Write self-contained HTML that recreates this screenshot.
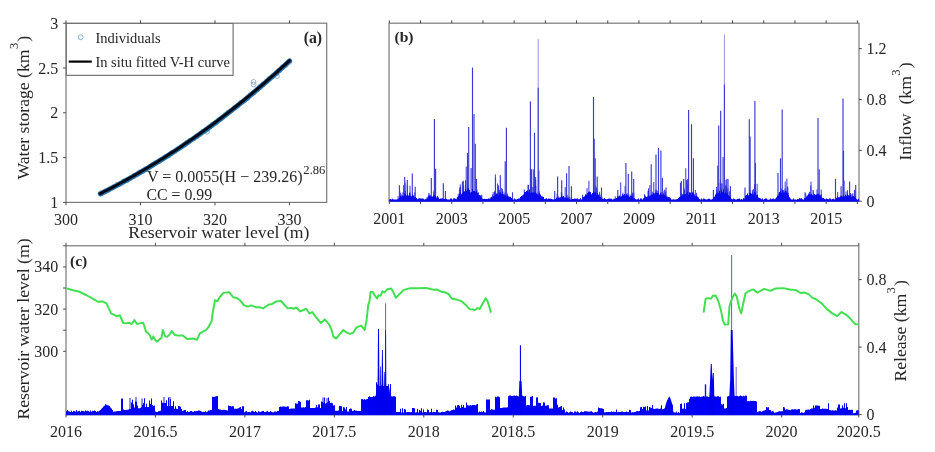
<!DOCTYPE html>
<html><head><meta charset="utf-8"><title>Reservoir figure</title>
<style>
html,body{margin:0;padding:0;background:#fff;}
svg{display:block;font-family:"Liberation Serif", "Times New Roman", serif;fill:#1a1a1a;}
svg text{fill:#262626;}
</style></head>
<body>
<svg width="935" height="452" viewBox="0 0 935 452">
<rect width="935" height="452" fill="#ffffff"/>
<circle cx="101.6" cy="193.0" r="2.4" fill="none" stroke="#7aa4c4" stroke-width="0.8"/>
<circle cx="105.1" cy="191.3" r="2.4" fill="none" stroke="#7aa4c4" stroke-width="0.8"/>
<circle cx="108.1" cy="190.0" r="2.4" fill="none" stroke="#7aa4c4" stroke-width="0.8"/>
<circle cx="110.8" cy="188.4" r="2.4" fill="none" stroke="#7aa4c4" stroke-width="0.8"/>
<circle cx="114.0" cy="186.7" r="2.4" fill="none" stroke="#7aa4c4" stroke-width="0.8"/>
<circle cx="117.2" cy="184.7" r="2.4" fill="none" stroke="#7aa4c4" stroke-width="0.8"/>
<circle cx="120.7" cy="183.7" r="2.4" fill="none" stroke="#7aa4c4" stroke-width="0.8"/>
<circle cx="123.6" cy="181.4" r="2.4" fill="none" stroke="#7aa4c4" stroke-width="0.8"/>
<circle cx="127.2" cy="180.3" r="2.4" fill="none" stroke="#7aa4c4" stroke-width="0.8"/>
<circle cx="130.3" cy="178.0" r="2.4" fill="none" stroke="#7aa4c4" stroke-width="0.8"/>
<circle cx="133.9" cy="175.9" r="2.4" fill="none" stroke="#7aa4c4" stroke-width="0.8"/>
<circle cx="137.0" cy="174.3" r="2.4" fill="none" stroke="#7aa4c4" stroke-width="0.8"/>
<circle cx="139.4" cy="172.4" r="2.4" fill="none" stroke="#7aa4c4" stroke-width="0.8"/>
<circle cx="142.8" cy="171.1" r="2.4" fill="none" stroke="#7aa4c4" stroke-width="0.8"/>
<circle cx="145.8" cy="169.1" r="2.4" fill="none" stroke="#7aa4c4" stroke-width="0.8"/>
<circle cx="149.4" cy="167.0" r="2.4" fill="none" stroke="#7aa4c4" stroke-width="0.8"/>
<circle cx="152.5" cy="164.8" r="2.4" fill="none" stroke="#7aa4c4" stroke-width="0.8"/>
<circle cx="155.2" cy="163.0" r="2.4" fill="none" stroke="#7aa4c4" stroke-width="0.8"/>
<circle cx="159.0" cy="161.2" r="2.4" fill="none" stroke="#7aa4c4" stroke-width="0.8"/>
<circle cx="161.8" cy="159.4" r="2.4" fill="none" stroke="#7aa4c4" stroke-width="0.8"/>
<circle cx="165.1" cy="157.1" r="2.4" fill="none" stroke="#7aa4c4" stroke-width="0.8"/>
<circle cx="168.6" cy="155.5" r="2.4" fill="none" stroke="#7aa4c4" stroke-width="0.8"/>
<circle cx="171.2" cy="153.3" r="2.4" fill="none" stroke="#7aa4c4" stroke-width="0.8"/>
<circle cx="174.7" cy="151.5" r="2.4" fill="none" stroke="#7aa4c4" stroke-width="0.8"/>
<circle cx="178.0" cy="148.9" r="2.4" fill="none" stroke="#7aa4c4" stroke-width="0.8"/>
<circle cx="181.5" cy="146.7" r="2.4" fill="none" stroke="#7aa4c4" stroke-width="0.8"/>
<circle cx="184.1" cy="145.1" r="2.4" fill="none" stroke="#7aa4c4" stroke-width="0.8"/>
<circle cx="187.0" cy="142.7" r="2.4" fill="none" stroke="#7aa4c4" stroke-width="0.8"/>
<circle cx="190.0" cy="140.7" r="2.4" fill="none" stroke="#7aa4c4" stroke-width="0.8"/>
<circle cx="193.9" cy="138.4" r="2.4" fill="none" stroke="#7aa4c4" stroke-width="0.8"/>
<circle cx="197.2" cy="136.0" r="2.4" fill="none" stroke="#7aa4c4" stroke-width="0.8"/>
<circle cx="200.2" cy="134.0" r="2.4" fill="none" stroke="#7aa4c4" stroke-width="0.8"/>
<circle cx="203.2" cy="131.6" r="2.4" fill="none" stroke="#7aa4c4" stroke-width="0.8"/>
<circle cx="206.7" cy="129.8" r="2.4" fill="none" stroke="#7aa4c4" stroke-width="0.8"/>
<circle cx="209.5" cy="127.2" r="2.4" fill="none" stroke="#7aa4c4" stroke-width="0.8"/>
<circle cx="212.2" cy="124.9" r="2.4" fill="none" stroke="#7aa4c4" stroke-width="0.8"/>
<circle cx="216.0" cy="122.8" r="2.4" fill="none" stroke="#7aa4c4" stroke-width="0.8"/>
<circle cx="219.3" cy="119.8" r="2.4" fill="none" stroke="#7aa4c4" stroke-width="0.8"/>
<circle cx="222.1" cy="117.8" r="2.4" fill="none" stroke="#7aa4c4" stroke-width="0.8"/>
<circle cx="224.9" cy="115.2" r="2.4" fill="none" stroke="#7aa4c4" stroke-width="0.8"/>
<circle cx="228.2" cy="112.4" r="2.4" fill="none" stroke="#7aa4c4" stroke-width="0.8"/>
<circle cx="231.2" cy="110.5" r="2.4" fill="none" stroke="#7aa4c4" stroke-width="0.8"/>
<circle cx="234.5" cy="107.6" r="2.4" fill="none" stroke="#7aa4c4" stroke-width="0.8"/>
<circle cx="237.9" cy="105.6" r="2.4" fill="none" stroke="#7aa4c4" stroke-width="0.8"/>
<circle cx="240.8" cy="102.7" r="2.4" fill="none" stroke="#7aa4c4" stroke-width="0.8"/>
<circle cx="244.4" cy="100.5" r="2.4" fill="none" stroke="#7aa4c4" stroke-width="0.8"/>
<circle cx="247.8" cy="97.9" r="2.4" fill="none" stroke="#7aa4c4" stroke-width="0.8"/>
<circle cx="250.5" cy="94.9" r="2.4" fill="none" stroke="#7aa4c4" stroke-width="0.8"/>
<circle cx="253.7" cy="92.7" r="2.4" fill="none" stroke="#7aa4c4" stroke-width="0.8"/>
<circle cx="257.5" cy="89.4" r="2.4" fill="none" stroke="#7aa4c4" stroke-width="0.8"/>
<circle cx="259.9" cy="86.7" r="2.4" fill="none" stroke="#7aa4c4" stroke-width="0.8"/>
<circle cx="263.1" cy="84.3" r="2.4" fill="none" stroke="#7aa4c4" stroke-width="0.8"/>
<circle cx="266.6" cy="81.3" r="2.4" fill="none" stroke="#7aa4c4" stroke-width="0.8"/>
<circle cx="269.2" cy="78.7" r="2.4" fill="none" stroke="#7aa4c4" stroke-width="0.8"/>
<circle cx="272.7" cy="76.1" r="2.4" fill="none" stroke="#7aa4c4" stroke-width="0.8"/>
<circle cx="276.5" cy="73.4" r="2.4" fill="none" stroke="#7aa4c4" stroke-width="0.8"/>
<circle cx="279.2" cy="70.5" r="2.4" fill="none" stroke="#7aa4c4" stroke-width="0.8"/>
<circle cx="282.6" cy="67.1" r="2.4" fill="none" stroke="#7aa4c4" stroke-width="0.8"/>
<circle cx="285.9" cy="64.9" r="2.4" fill="none" stroke="#7aa4c4" stroke-width="0.8"/>
<circle cx="289.1" cy="62.0" r="2.4" fill="none" stroke="#7aa4c4" stroke-width="0.8"/>
<circle cx="253.5" cy="81.9" r="2.4" fill="none" stroke="#7aa4c4" stroke-width="0.8"/>
<circle cx="253.6" cy="84.6" r="2.4" fill="none" stroke="#7aa4c4" stroke-width="0.8"/>
<circle cx="277.0" cy="76.1" r="2.4" fill="none" stroke="#7aa4c4" stroke-width="0.8"/>
<circle cx="207.1" cy="131.8" r="2.4" fill="none" stroke="#7aa4c4" stroke-width="0.8"/>
<circle cx="100.6" cy="193.4" r="2.4" fill="none" stroke="#7aa4c4" stroke-width="0.8"/>
<path d="M100.26,193.62 L102.16,192.67 L104.05,191.71 L105.94,190.74 L107.83,189.77 L109.72,188.79 L111.62,187.80 L113.51,186.80 L115.40,185.80 L117.29,184.79 L119.18,183.78 L121.07,182.75 L122.97,181.72 L124.86,180.69 L126.75,179.64 L128.64,178.59 L130.53,177.53 L132.43,176.47 L134.32,175.39 L136.21,174.31 L138.10,173.23 L139.99,172.13 L141.89,171.03 L143.78,169.92 L145.67,168.80 L147.56,167.68 L149.45,166.54 L151.35,165.40 L153.24,164.26 L155.13,163.10 L157.02,161.94 L158.91,160.77 L160.81,159.59 L162.70,158.41 L164.59,157.22 L166.48,156.02 L168.37,154.81 L170.27,153.59 L172.16,152.37 L174.05,151.14 L175.94,149.90 L177.83,148.66 L179.72,147.40 L181.62,146.14 L183.51,144.87 L185.40,143.59 L187.29,142.31 L189.18,141.01 L191.08,139.71 L192.97,138.40 L194.86,137.09 L196.75,135.76 L198.64,134.43 L200.54,133.09 L202.43,131.74 L204.32,130.38 L206.21,129.01 L208.10,127.64 L210.00,126.26 L211.89,124.87 L213.78,123.47 L215.67,122.06 L217.56,120.65 L219.46,119.23 L221.35,117.80 L223.24,116.36 L225.13,114.91 L227.02,113.45 L228.92,111.99 L230.81,110.51 L232.70,109.03 L234.59,107.54 L236.48,106.04 L238.37,104.54 L240.27,103.02 L242.16,101.50 L244.05,99.97 L245.94,98.42 L247.83,96.88 L249.73,95.32 L251.62,93.75 L253.51,92.17 L255.40,90.59 L257.29,89.00 L259.19,87.40 L261.08,85.79 L262.97,84.17 L264.86,82.54 L266.75,80.90 L268.65,79.26 L270.54,77.60 L272.43,75.94 L274.32,74.27 L276.21,72.58 L278.11,70.89 L280.00,69.19 L281.89,67.49 L283.78,65.77 L285.67,64.04 L287.57,62.31 L289.46,60.56" fill="none" stroke="#2070ae" stroke-width="5.0" stroke-linecap="round" transform="translate(0.15,0.35)"/>
<path d="M100.26,193.62 L102.16,192.67 L104.05,191.71 L105.94,190.74 L107.83,189.77 L109.72,188.79 L111.62,187.80 L113.51,186.80 L115.40,185.80 L117.29,184.79 L119.18,183.78 L121.07,182.75 L122.97,181.72 L124.86,180.69 L126.75,179.64 L128.64,178.59 L130.53,177.53 L132.43,176.47 L134.32,175.39 L136.21,174.31 L138.10,173.23 L139.99,172.13 L141.89,171.03 L143.78,169.92 L145.67,168.80 L147.56,167.68 L149.45,166.54 L151.35,165.40 L153.24,164.26 L155.13,163.10 L157.02,161.94 L158.91,160.77 L160.81,159.59 L162.70,158.41 L164.59,157.22 L166.48,156.02 L168.37,154.81 L170.27,153.59 L172.16,152.37 L174.05,151.14 L175.94,149.90 L177.83,148.66 L179.72,147.40 L181.62,146.14 L183.51,144.87 L185.40,143.59 L187.29,142.31 L189.18,141.01 L191.08,139.71 L192.97,138.40 L194.86,137.09 L196.75,135.76 L198.64,134.43 L200.54,133.09 L202.43,131.74 L204.32,130.38 L206.21,129.01 L208.10,127.64 L210.00,126.26 L211.89,124.87 L213.78,123.47 L215.67,122.06 L217.56,120.65 L219.46,119.23 L221.35,117.80 L223.24,116.36 L225.13,114.91 L227.02,113.45 L228.92,111.99 L230.81,110.51 L232.70,109.03 L234.59,107.54 L236.48,106.04 L238.37,104.54 L240.27,103.02 L242.16,101.50 L244.05,99.97 L245.94,98.42 L247.83,96.88 L249.73,95.32 L251.62,93.75 L253.51,92.17 L255.40,90.59 L257.29,89.00 L259.19,87.40 L261.08,85.79 L262.97,84.17 L264.86,82.54 L266.75,80.90 L268.65,79.26 L270.54,77.60 L272.43,75.94 L274.32,74.27 L276.21,72.58 L278.11,70.89 L280.00,69.19 L281.89,67.49 L283.78,65.77 L285.67,64.04 L287.57,62.31 L289.46,60.56" fill="none" stroke="#050a14" stroke-width="3.0" stroke-linecap="round"/>
<rect x="66.3" y="23.5" width="166.8" height="51.8" fill="#ffffff" stroke="#585858" stroke-width="1"/>
<circle cx="80.7" cy="37.3" r="2.4" fill="none" stroke="#6fb0d8" stroke-width="0.9"/>
<line x1="68.70" y1="61.60" x2="91.80" y2="61.60" stroke="#000" stroke-width="2.2" />
<text x="95.40" y="42.60" font-size="14.5" text-anchor="start" font-weight="normal" >Individuals</text>
<text x="95.40" y="67.30" font-size="14.5" text-anchor="start" font-weight="normal" >In situ fitted V-H curve</text>
<rect x="66.00" y="23.20" width="260.70" height="179.20" fill="none" stroke="#7a7a7a" stroke-width="1.2"/>
<line x1="66.00" y1="202.40" x2="66.00" y2="205.30" stroke="#4a4a4a" stroke-width="1.0" />
<line x1="66.00" y1="23.20" x2="66.00" y2="20.30" stroke="#4a4a4a" stroke-width="1.0" />
<text x="66.00" y="224.80" font-size="16.0" text-anchor="middle" font-weight="normal" >300</text>
<line x1="140.49" y1="202.40" x2="140.49" y2="205.30" stroke="#4a4a4a" stroke-width="1.0" />
<line x1="140.49" y1="23.20" x2="140.49" y2="20.30" stroke="#4a4a4a" stroke-width="1.0" />
<text x="140.49" y="224.80" font-size="16.0" text-anchor="middle" font-weight="normal" >310</text>
<line x1="214.97" y1="202.40" x2="214.97" y2="205.30" stroke="#4a4a4a" stroke-width="1.0" />
<line x1="214.97" y1="23.20" x2="214.97" y2="20.30" stroke="#4a4a4a" stroke-width="1.0" />
<text x="214.97" y="224.80" font-size="16.0" text-anchor="middle" font-weight="normal" >320</text>
<line x1="289.46" y1="202.40" x2="289.46" y2="205.30" stroke="#4a4a4a" stroke-width="1.0" />
<line x1="289.46" y1="23.20" x2="289.46" y2="20.30" stroke="#4a4a4a" stroke-width="1.0" />
<text x="289.46" y="224.80" font-size="16.0" text-anchor="middle" font-weight="normal" >330</text>
<line x1="66.00" y1="202.40" x2="63.10" y2="202.40" stroke="#4a4a4a" stroke-width="1.0" />
<text x="58.30" y="207.90" font-size="16.0" text-anchor="end" font-weight="normal" >1</text>
<line x1="66.00" y1="157.60" x2="63.10" y2="157.60" stroke="#4a4a4a" stroke-width="1.0" />
<text x="58.30" y="163.10" font-size="16.0" text-anchor="end" font-weight="normal" >1.5</text>
<line x1="66.00" y1="112.80" x2="63.10" y2="112.80" stroke="#4a4a4a" stroke-width="1.0" />
<text x="58.30" y="118.30" font-size="16.0" text-anchor="end" font-weight="normal" >2</text>
<line x1="66.00" y1="68.00" x2="63.10" y2="68.00" stroke="#4a4a4a" stroke-width="1.0" />
<text x="58.30" y="73.50" font-size="16.0" text-anchor="end" font-weight="normal" >2.5</text>
<line x1="66.00" y1="23.20" x2="63.10" y2="23.20" stroke="#4a4a4a" stroke-width="1.0" />
<text x="58.30" y="28.70" font-size="16.0" text-anchor="end" font-weight="normal" >3</text>
<text x="312.90" y="42.70" font-size="15.8" text-anchor="middle" font-weight="bold" >(a)</text>
<text x="147.00" y="182.00" font-size="16.0" text-anchor="start" font-weight="normal" >V = 0.0055(H − 239.26)<tspan font-size="12.6" dy="-8.5" dx="0.8">2.86</tspan></text>
<text x="146.50" y="199.80" font-size="15.8" text-anchor="start" font-weight="normal" >CC = 0.99</text>
<text x="218.80" y="237.90" font-size="17.7" text-anchor="middle" font-weight="normal" >Reservoir water level (m)</text>
<text transform="translate(28.8,179.6) rotate(-90)" font-size="17.7">Water storage (km<tspan font-size="12.5" dy="-11" dx="0.3">3</tspan><tspan dy="11" dx="1.2">)</tspan></text>
<rect x="389.05" y="23.20" width="469.95" height="178.00" fill="none" stroke="#7a7a7a" stroke-width="1.2"/>
<line x1="416.1" y1="200.2" x2="416.1" y2="198.5" stroke="#2424e4" stroke-width="0.9"/>
<line x1="410.1" y1="200.2" x2="410.1" y2="192.3" stroke="#2424e4" stroke-width="0.9"/>
<line x1="407.6" y1="200.2" x2="407.6" y2="193.4" stroke="#2424e4" stroke-width="0.9"/>
<line x1="402.9" y1="200.2" x2="402.9" y2="192.3" stroke="#2424e4" stroke-width="0.9"/>
<line x1="416.4" y1="200.2" x2="416.4" y2="198.9" stroke="#2424e4" stroke-width="0.9"/>
<line x1="407.3" y1="200.2" x2="407.3" y2="185.5" stroke="#2424e4" stroke-width="0.9"/>
<line x1="417.3" y1="200.2" x2="417.3" y2="199.9" stroke="#2424e4" stroke-width="0.9"/>
<line x1="399.7" y1="200.2" x2="399.7" y2="190.7" stroke="#2424e4" stroke-width="0.9"/>
<line x1="417.5" y1="200.2" x2="417.5" y2="199.9" stroke="#2424e4" stroke-width="0.9"/>
<line x1="398.1" y1="200.2" x2="398.1" y2="196.2" stroke="#2424e4" stroke-width="0.9"/>
<line x1="405.1" y1="200.2" x2="405.1" y2="182.6" stroke="#2424e4" stroke-width="0.9"/>
<line x1="410.0" y1="200.2" x2="410.0" y2="185.8" stroke="#2424e4" stroke-width="0.9"/>
<line x1="400.4" y1="200.2" x2="400.4" y2="192.7" stroke="#2424e4" stroke-width="0.9"/>
<line x1="401.7" y1="200.2" x2="401.7" y2="194.4" stroke="#2424e4" stroke-width="0.9"/>
<line x1="414.8" y1="200.2" x2="414.8" y2="192.3" stroke="#2424e4" stroke-width="0.9"/>
<line x1="400.8" y1="200.2" x2="400.8" y2="196.1" stroke="#2424e4" stroke-width="0.9"/>
<line x1="405.4" y1="200.2" x2="405.4" y2="190.8" stroke="#2424e4" stroke-width="0.9"/>
<line x1="405.1" y1="200.2" x2="405.1" y2="194.0" stroke="#2424e4" stroke-width="0.9"/>
<line x1="429.0" y1="200.2" x2="429.0" y2="193.5" stroke="#2424e4" stroke-width="0.9"/>
<line x1="439.4" y1="200.2" x2="439.4" y2="199.1" stroke="#2424e4" stroke-width="0.9"/>
<line x1="434.0" y1="200.2" x2="434.0" y2="190.6" stroke="#2424e4" stroke-width="0.9"/>
<line x1="425.6" y1="200.2" x2="425.6" y2="198.9" stroke="#2424e4" stroke-width="0.9"/>
<line x1="426.9" y1="200.2" x2="426.9" y2="197.3" stroke="#2424e4" stroke-width="0.9"/>
<line x1="433.8" y1="200.2" x2="433.8" y2="192.2" stroke="#2424e4" stroke-width="0.9"/>
<line x1="429.9" y1="200.2" x2="429.9" y2="195.0" stroke="#2424e4" stroke-width="0.9"/>
<line x1="434.3" y1="200.2" x2="434.3" y2="194.1" stroke="#2424e4" stroke-width="0.9"/>
<line x1="435.5" y1="200.2" x2="435.5" y2="194.4" stroke="#2424e4" stroke-width="0.9"/>
<line x1="432.0" y1="200.2" x2="432.0" y2="196.1" stroke="#2424e4" stroke-width="0.9"/>
<line x1="434.9" y1="200.2" x2="434.9" y2="193.8" stroke="#2424e4" stroke-width="0.9"/>
<line x1="428.8" y1="200.2" x2="428.8" y2="193.3" stroke="#2424e4" stroke-width="0.9"/>
<line x1="437.5" y1="200.2" x2="437.5" y2="195.9" stroke="#2424e4" stroke-width="0.9"/>
<line x1="427.9" y1="200.2" x2="427.9" y2="196.5" stroke="#2424e4" stroke-width="0.9"/>
<line x1="458.9" y1="200.2" x2="458.9" y2="196.2" stroke="#2424e4" stroke-width="0.9"/>
<line x1="467.6" y1="200.2" x2="467.6" y2="189.6" stroke="#2424e4" stroke-width="0.9"/>
<line x1="467.9" y1="200.2" x2="467.9" y2="184.4" stroke="#2424e4" stroke-width="0.9"/>
<line x1="457.1" y1="200.2" x2="457.1" y2="197.4" stroke="#2424e4" stroke-width="0.9"/>
<line x1="458.2" y1="200.2" x2="458.2" y2="193.7" stroke="#2424e4" stroke-width="0.9"/>
<line x1="477.0" y1="200.2" x2="477.0" y2="189.2" stroke="#2424e4" stroke-width="0.9"/>
<line x1="457.5" y1="200.2" x2="457.5" y2="197.1" stroke="#2424e4" stroke-width="0.9"/>
<line x1="466.2" y1="200.2" x2="466.2" y2="166.6" stroke="#2424e4" stroke-width="0.9"/>
<line x1="459.7" y1="200.2" x2="459.7" y2="187.5" stroke="#2424e4" stroke-width="0.9"/>
<line x1="482.9" y1="200.2" x2="482.9" y2="200.5" stroke="#2424e4" stroke-width="0.9"/>
<line x1="478.0" y1="200.2" x2="478.0" y2="193.3" stroke="#2424e4" stroke-width="0.9"/>
<line x1="482.5" y1="200.2" x2="482.5" y2="199.5" stroke="#2424e4" stroke-width="0.9"/>
<line x1="481.8" y1="200.2" x2="481.8" y2="194.7" stroke="#2424e4" stroke-width="0.9"/>
<line x1="460.5" y1="200.2" x2="460.5" y2="187.4" stroke="#2424e4" stroke-width="0.9"/>
<line x1="481.1" y1="200.2" x2="481.1" y2="197.8" stroke="#2424e4" stroke-width="0.9"/>
<line x1="465.5" y1="200.2" x2="465.5" y2="180.2" stroke="#2424e4" stroke-width="0.9"/>
<line x1="460.3" y1="200.2" x2="460.3" y2="184.4" stroke="#2424e4" stroke-width="0.9"/>
<line x1="463.4" y1="200.2" x2="463.4" y2="180.8" stroke="#2424e4" stroke-width="0.9"/>
<line x1="459.9" y1="200.2" x2="459.9" y2="192.5" stroke="#2424e4" stroke-width="0.9"/>
<line x1="480.8" y1="200.2" x2="480.8" y2="196.9" stroke="#2424e4" stroke-width="0.9"/>
<line x1="463.1" y1="200.2" x2="463.1" y2="187.9" stroke="#2424e4" stroke-width="0.9"/>
<line x1="464.6" y1="200.2" x2="464.6" y2="191.3" stroke="#2424e4" stroke-width="0.9"/>
<line x1="460.9" y1="200.2" x2="460.9" y2="193.6" stroke="#2424e4" stroke-width="0.9"/>
<line x1="481.3" y1="200.2" x2="481.3" y2="195.5" stroke="#2424e4" stroke-width="0.9"/>
<line x1="510.5" y1="200.2" x2="510.5" y2="197.8" stroke="#2424e4" stroke-width="0.9"/>
<line x1="507.8" y1="200.2" x2="507.8" y2="195.6" stroke="#2424e4" stroke-width="0.9"/>
<line x1="501.7" y1="200.2" x2="501.7" y2="188.1" stroke="#2424e4" stroke-width="0.9"/>
<line x1="497.6" y1="200.2" x2="497.6" y2="183.5" stroke="#2424e4" stroke-width="0.9"/>
<line x1="502.3" y1="200.2" x2="502.3" y2="189.0" stroke="#2424e4" stroke-width="0.9"/>
<line x1="510.2" y1="200.2" x2="510.2" y2="197.7" stroke="#2424e4" stroke-width="0.9"/>
<line x1="512.8" y1="200.2" x2="512.8" y2="200.6" stroke="#2424e4" stroke-width="0.9"/>
<line x1="498.5" y1="200.2" x2="498.5" y2="185.4" stroke="#2424e4" stroke-width="0.9"/>
<line x1="495.4" y1="200.2" x2="495.4" y2="174.4" stroke="#2424e4" stroke-width="0.9"/>
<line x1="502.9" y1="200.2" x2="502.9" y2="191.5" stroke="#2424e4" stroke-width="0.9"/>
<line x1="507.4" y1="200.2" x2="507.4" y2="193.4" stroke="#2424e4" stroke-width="0.9"/>
<line x1="493.2" y1="200.2" x2="493.2" y2="192.1" stroke="#2424e4" stroke-width="0.9"/>
<line x1="490.2" y1="200.2" x2="490.2" y2="197.4" stroke="#2424e4" stroke-width="0.9"/>
<line x1="495.1" y1="200.2" x2="495.1" y2="191.1" stroke="#2424e4" stroke-width="0.9"/>
<line x1="512.6" y1="200.2" x2="512.6" y2="200.1" stroke="#2424e4" stroke-width="0.9"/>
<line x1="504.9" y1="200.2" x2="504.9" y2="192.7" stroke="#2424e4" stroke-width="0.9"/>
<line x1="489.0" y1="200.2" x2="489.0" y2="201.1" stroke="#2424e4" stroke-width="0.9"/>
<line x1="492.6" y1="200.2" x2="492.6" y2="194.4" stroke="#2424e4" stroke-width="0.9"/>
<line x1="499.4" y1="200.2" x2="499.4" y2="189.9" stroke="#2424e4" stroke-width="0.9"/>
<line x1="510.5" y1="200.2" x2="510.5" y2="197.9" stroke="#2424e4" stroke-width="0.9"/>
<line x1="494.5" y1="200.2" x2="494.5" y2="191.6" stroke="#2424e4" stroke-width="0.9"/>
<line x1="519.6" y1="200.2" x2="519.6" y2="200.0" stroke="#2424e4" stroke-width="0.9"/>
<line x1="528.2" y1="200.2" x2="528.2" y2="191.1" stroke="#2424e4" stroke-width="0.9"/>
<line x1="528.3" y1="200.2" x2="528.3" y2="190.1" stroke="#2424e4" stroke-width="0.9"/>
<line x1="534.2" y1="200.2" x2="534.2" y2="184.6" stroke="#2424e4" stroke-width="0.9"/>
<line x1="524.3" y1="200.2" x2="524.3" y2="189.4" stroke="#2424e4" stroke-width="0.9"/>
<line x1="531.3" y1="200.2" x2="531.3" y2="190.0" stroke="#2424e4" stroke-width="0.9"/>
<line x1="543.4" y1="200.2" x2="543.4" y2="197.8" stroke="#2424e4" stroke-width="0.9"/>
<line x1="522.9" y1="200.2" x2="522.9" y2="195.4" stroke="#2424e4" stroke-width="0.9"/>
<line x1="535.6" y1="200.2" x2="535.6" y2="177.0" stroke="#2424e4" stroke-width="0.9"/>
<line x1="539.3" y1="200.2" x2="539.3" y2="191.4" stroke="#2424e4" stroke-width="0.9"/>
<line x1="525.9" y1="200.2" x2="525.9" y2="193.2" stroke="#2424e4" stroke-width="0.9"/>
<line x1="535.8" y1="200.2" x2="535.8" y2="186.0" stroke="#2424e4" stroke-width="0.9"/>
<line x1="528.1" y1="200.2" x2="528.1" y2="184.6" stroke="#2424e4" stroke-width="0.9"/>
<line x1="530.5" y1="200.2" x2="530.5" y2="169.8" stroke="#2424e4" stroke-width="0.9"/>
<line x1="538.1" y1="200.2" x2="538.1" y2="191.5" stroke="#2424e4" stroke-width="0.9"/>
<line x1="542.5" y1="200.2" x2="542.5" y2="197.2" stroke="#2424e4" stroke-width="0.9"/>
<line x1="532.8" y1="200.2" x2="532.8" y2="187.1" stroke="#2424e4" stroke-width="0.9"/>
<line x1="525.2" y1="200.2" x2="525.2" y2="193.5" stroke="#2424e4" stroke-width="0.9"/>
<line x1="539.3" y1="200.2" x2="539.3" y2="194.1" stroke="#2424e4" stroke-width="0.9"/>
<line x1="533.3" y1="200.2" x2="533.3" y2="169.3" stroke="#2424e4" stroke-width="0.9"/>
<line x1="522.7" y1="200.2" x2="522.7" y2="195.2" stroke="#2424e4" stroke-width="0.9"/>
<line x1="534.8" y1="200.2" x2="534.8" y2="186.3" stroke="#2424e4" stroke-width="0.9"/>
<line x1="535.7" y1="200.2" x2="535.7" y2="179.8" stroke="#2424e4" stroke-width="0.9"/>
<line x1="556.3" y1="200.2" x2="556.3" y2="198.0" stroke="#2424e4" stroke-width="0.9"/>
<line x1="558.7" y1="200.2" x2="558.7" y2="197.5" stroke="#2424e4" stroke-width="0.9"/>
<line x1="569.9" y1="200.2" x2="569.9" y2="197.3" stroke="#2424e4" stroke-width="0.9"/>
<line x1="566.6" y1="200.2" x2="566.6" y2="197.7" stroke="#2424e4" stroke-width="0.9"/>
<line x1="569.0" y1="200.2" x2="569.0" y2="196.4" stroke="#2424e4" stroke-width="0.9"/>
<line x1="561.8" y1="200.2" x2="561.8" y2="192.6" stroke="#2424e4" stroke-width="0.9"/>
<line x1="561.6" y1="200.2" x2="561.6" y2="196.2" stroke="#2424e4" stroke-width="0.9"/>
<line x1="555.0" y1="200.2" x2="555.0" y2="199.1" stroke="#2424e4" stroke-width="0.9"/>
<line x1="553.7" y1="200.2" x2="553.7" y2="200.2" stroke="#2424e4" stroke-width="0.9"/>
<line x1="567.2" y1="200.2" x2="567.2" y2="195.0" stroke="#2424e4" stroke-width="0.9"/>
<line x1="569.1" y1="200.2" x2="569.1" y2="196.7" stroke="#2424e4" stroke-width="0.9"/>
<line x1="558.1" y1="200.2" x2="558.1" y2="195.8" stroke="#2424e4" stroke-width="0.9"/>
<line x1="561.3" y1="200.2" x2="561.3" y2="192.0" stroke="#2424e4" stroke-width="0.9"/>
<line x1="562.9" y1="200.2" x2="562.9" y2="196.0" stroke="#2424e4" stroke-width="0.9"/>
<line x1="565.2" y1="200.2" x2="565.2" y2="187.1" stroke="#2424e4" stroke-width="0.9"/>
<line x1="557.1" y1="200.2" x2="557.1" y2="193.5" stroke="#2424e4" stroke-width="0.9"/>
<line x1="553.3" y1="200.2" x2="553.3" y2="200.7" stroke="#2424e4" stroke-width="0.9"/>
<line x1="587.0" y1="200.2" x2="587.0" y2="188.1" stroke="#2424e4" stroke-width="0.9"/>
<line x1="601.8" y1="200.2" x2="601.8" y2="196.8" stroke="#2424e4" stroke-width="0.9"/>
<line x1="588.9" y1="200.2" x2="588.9" y2="180.8" stroke="#2424e4" stroke-width="0.9"/>
<line x1="588.9" y1="200.2" x2="588.9" y2="191.8" stroke="#2424e4" stroke-width="0.9"/>
<line x1="601.1" y1="200.2" x2="601.1" y2="195.5" stroke="#2424e4" stroke-width="0.9"/>
<line x1="596.5" y1="200.2" x2="596.5" y2="187.4" stroke="#2424e4" stroke-width="0.9"/>
<line x1="602.6" y1="200.2" x2="602.6" y2="199.7" stroke="#2424e4" stroke-width="0.9"/>
<line x1="599.6" y1="200.2" x2="599.6" y2="191.8" stroke="#2424e4" stroke-width="0.9"/>
<line x1="600.0" y1="200.2" x2="600.0" y2="194.7" stroke="#2424e4" stroke-width="0.9"/>
<line x1="597.2" y1="200.2" x2="597.2" y2="189.6" stroke="#2424e4" stroke-width="0.9"/>
<line x1="588.5" y1="200.2" x2="588.5" y2="192.3" stroke="#2424e4" stroke-width="0.9"/>
<line x1="595.1" y1="200.2" x2="595.1" y2="192.5" stroke="#2424e4" stroke-width="0.9"/>
<line x1="601.1" y1="200.2" x2="601.1" y2="197.7" stroke="#2424e4" stroke-width="0.9"/>
<line x1="582.6" y1="200.2" x2="582.6" y2="199.9" stroke="#2424e4" stroke-width="0.9"/>
<line x1="601.5" y1="200.2" x2="601.5" y2="197.7" stroke="#2424e4" stroke-width="0.9"/>
<line x1="585.0" y1="200.2" x2="585.0" y2="196.6" stroke="#2424e4" stroke-width="0.9"/>
<line x1="582.9" y1="200.2" x2="582.9" y2="197.9" stroke="#2424e4" stroke-width="0.9"/>
<line x1="595.3" y1="200.2" x2="595.3" y2="185.5" stroke="#2424e4" stroke-width="0.9"/>
<line x1="630.7" y1="200.2" x2="630.7" y2="196.2" stroke="#2424e4" stroke-width="0.9"/>
<line x1="627.2" y1="200.2" x2="627.2" y2="193.3" stroke="#2424e4" stroke-width="0.9"/>
<line x1="632.6" y1="200.2" x2="632.6" y2="192.6" stroke="#2424e4" stroke-width="0.9"/>
<line x1="634.4" y1="200.2" x2="634.4" y2="198.6" stroke="#2424e4" stroke-width="0.9"/>
<line x1="633.8" y1="200.2" x2="633.8" y2="192.7" stroke="#2424e4" stroke-width="0.9"/>
<line x1="635.7" y1="200.2" x2="635.7" y2="199.6" stroke="#2424e4" stroke-width="0.9"/>
<line x1="617.9" y1="200.2" x2="617.9" y2="196.8" stroke="#2424e4" stroke-width="0.9"/>
<line x1="613.8" y1="200.2" x2="613.8" y2="198.7" stroke="#2424e4" stroke-width="0.9"/>
<line x1="632.5" y1="200.2" x2="632.5" y2="194.5" stroke="#2424e4" stroke-width="0.9"/>
<line x1="632.8" y1="200.2" x2="632.8" y2="194.8" stroke="#2424e4" stroke-width="0.9"/>
<line x1="619.9" y1="200.2" x2="619.9" y2="195.8" stroke="#2424e4" stroke-width="0.9"/>
<line x1="615.3" y1="200.2" x2="615.3" y2="196.3" stroke="#2424e4" stroke-width="0.9"/>
<line x1="617.9" y1="200.2" x2="617.9" y2="196.0" stroke="#2424e4" stroke-width="0.9"/>
<line x1="623.2" y1="200.2" x2="623.2" y2="195.2" stroke="#2424e4" stroke-width="0.9"/>
<line x1="619.2" y1="200.2" x2="619.2" y2="195.4" stroke="#2424e4" stroke-width="0.9"/>
<line x1="630.2" y1="200.2" x2="630.2" y2="194.5" stroke="#2424e4" stroke-width="0.9"/>
<line x1="620.7" y1="200.2" x2="620.7" y2="182.3" stroke="#2424e4" stroke-width="0.9"/>
<line x1="625.1" y1="200.2" x2="625.1" y2="186.2" stroke="#2424e4" stroke-width="0.9"/>
<line x1="627.8" y1="200.2" x2="627.8" y2="195.4" stroke="#2424e4" stroke-width="0.9"/>
<line x1="622.9" y1="200.2" x2="622.9" y2="192.7" stroke="#2424e4" stroke-width="0.9"/>
<line x1="631.6" y1="200.2" x2="631.6" y2="195.5" stroke="#2424e4" stroke-width="0.9"/>
<line x1="663.1" y1="200.2" x2="663.1" y2="191.3" stroke="#2424e4" stroke-width="0.9"/>
<line x1="648.5" y1="200.2" x2="648.5" y2="188.3" stroke="#2424e4" stroke-width="0.9"/>
<line x1="644.7" y1="200.2" x2="644.7" y2="195.0" stroke="#2424e4" stroke-width="0.9"/>
<line x1="647.1" y1="200.2" x2="647.1" y2="196.9" stroke="#2424e4" stroke-width="0.9"/>
<line x1="648.1" y1="200.2" x2="648.1" y2="190.9" stroke="#2424e4" stroke-width="0.9"/>
<line x1="671.3" y1="200.2" x2="671.3" y2="200.3" stroke="#2424e4" stroke-width="0.9"/>
<line x1="656.7" y1="200.2" x2="656.7" y2="189.9" stroke="#2424e4" stroke-width="0.9"/>
<line x1="665.9" y1="200.2" x2="665.9" y2="195.5" stroke="#2424e4" stroke-width="0.9"/>
<line x1="656.8" y1="200.2" x2="656.8" y2="191.4" stroke="#2424e4" stroke-width="0.9"/>
<line x1="667.0" y1="200.2" x2="667.0" y2="195.9" stroke="#2424e4" stroke-width="0.9"/>
<line x1="670.3" y1="200.2" x2="670.3" y2="198.9" stroke="#2424e4" stroke-width="0.9"/>
<line x1="648.4" y1="200.2" x2="648.4" y2="191.4" stroke="#2424e4" stroke-width="0.9"/>
<line x1="656.9" y1="200.2" x2="656.9" y2="193.2" stroke="#2424e4" stroke-width="0.9"/>
<line x1="661.1" y1="200.2" x2="661.1" y2="193.9" stroke="#2424e4" stroke-width="0.9"/>
<line x1="665.6" y1="200.2" x2="665.6" y2="191.5" stroke="#2424e4" stroke-width="0.9"/>
<line x1="665.6" y1="200.2" x2="665.6" y2="192.3" stroke="#2424e4" stroke-width="0.9"/>
<line x1="652.7" y1="200.2" x2="652.7" y2="191.7" stroke="#2424e4" stroke-width="0.9"/>
<line x1="653.8" y1="200.2" x2="653.8" y2="182.0" stroke="#2424e4" stroke-width="0.9"/>
<line x1="644.6" y1="200.2" x2="644.6" y2="194.2" stroke="#2424e4" stroke-width="0.9"/>
<line x1="642.8" y1="200.2" x2="642.8" y2="200.1" stroke="#2424e4" stroke-width="0.9"/>
<line x1="649.9" y1="200.2" x2="649.9" y2="185.0" stroke="#2424e4" stroke-width="0.9"/>
<line x1="657.0" y1="200.2" x2="657.0" y2="191.1" stroke="#2424e4" stroke-width="0.9"/>
<line x1="668.5" y1="200.2" x2="668.5" y2="197.3" stroke="#2424e4" stroke-width="0.9"/>
<line x1="655.8" y1="200.2" x2="655.8" y2="189.5" stroke="#2424e4" stroke-width="0.9"/>
<line x1="664.6" y1="200.2" x2="664.6" y2="189.7" stroke="#2424e4" stroke-width="0.9"/>
<line x1="661.4" y1="200.2" x2="661.4" y2="192.2" stroke="#2424e4" stroke-width="0.9"/>
<line x1="651.8" y1="200.2" x2="651.8" y2="193.8" stroke="#2424e4" stroke-width="0.9"/>
<line x1="696.4" y1="200.2" x2="696.4" y2="192.8" stroke="#2424e4" stroke-width="0.9"/>
<line x1="694.1" y1="200.2" x2="694.1" y2="193.9" stroke="#2424e4" stroke-width="0.9"/>
<line x1="687.1" y1="200.2" x2="687.1" y2="183.6" stroke="#2424e4" stroke-width="0.9"/>
<line x1="690.3" y1="200.2" x2="690.3" y2="192.3" stroke="#2424e4" stroke-width="0.9"/>
<line x1="687.6" y1="200.2" x2="687.6" y2="179.1" stroke="#2424e4" stroke-width="0.9"/>
<line x1="682.5" y1="200.2" x2="682.5" y2="194.1" stroke="#2424e4" stroke-width="0.9"/>
<line x1="683.9" y1="200.2" x2="683.9" y2="187.6" stroke="#2424e4" stroke-width="0.9"/>
<line x1="696.4" y1="200.2" x2="696.4" y2="196.1" stroke="#2424e4" stroke-width="0.9"/>
<line x1="680.6" y1="200.2" x2="680.6" y2="195.7" stroke="#2424e4" stroke-width="0.9"/>
<line x1="684.5" y1="200.2" x2="684.5" y2="189.7" stroke="#2424e4" stroke-width="0.9"/>
<line x1="680.7" y1="200.2" x2="680.7" y2="195.1" stroke="#2424e4" stroke-width="0.9"/>
<line x1="681.4" y1="200.2" x2="681.4" y2="181.0" stroke="#2424e4" stroke-width="0.9"/>
<line x1="693.8" y1="200.2" x2="693.8" y2="194.1" stroke="#2424e4" stroke-width="0.9"/>
<line x1="699.1" y1="200.2" x2="699.1" y2="199.6" stroke="#2424e4" stroke-width="0.9"/>
<line x1="685.8" y1="200.2" x2="685.8" y2="168.2" stroke="#2424e4" stroke-width="0.9"/>
<line x1="695.3" y1="200.2" x2="695.3" y2="190.0" stroke="#2424e4" stroke-width="0.9"/>
<line x1="687.0" y1="200.2" x2="687.0" y2="191.7" stroke="#2424e4" stroke-width="0.9"/>
<line x1="691.7" y1="200.2" x2="691.7" y2="192.9" stroke="#2424e4" stroke-width="0.9"/>
<line x1="681.7" y1="200.2" x2="681.7" y2="193.6" stroke="#2424e4" stroke-width="0.9"/>
<line x1="677.8" y1="200.2" x2="677.8" y2="199.3" stroke="#2424e4" stroke-width="0.9"/>
<line x1="727.8" y1="200.2" x2="727.8" y2="188.2" stroke="#2424e4" stroke-width="0.9"/>
<line x1="722.0" y1="200.2" x2="722.0" y2="183.3" stroke="#2424e4" stroke-width="0.9"/>
<line x1="721.3" y1="200.2" x2="721.3" y2="190.0" stroke="#2424e4" stroke-width="0.9"/>
<line x1="724.1" y1="200.2" x2="724.1" y2="187.7" stroke="#2424e4" stroke-width="0.9"/>
<line x1="726.8" y1="200.2" x2="726.8" y2="178.9" stroke="#2424e4" stroke-width="0.9"/>
<line x1="720.6" y1="200.2" x2="720.6" y2="184.8" stroke="#2424e4" stroke-width="0.9"/>
<line x1="727.0" y1="200.2" x2="727.0" y2="190.3" stroke="#2424e4" stroke-width="0.9"/>
<line x1="716.6" y1="200.2" x2="716.6" y2="186.8" stroke="#2424e4" stroke-width="0.9"/>
<line x1="729.6" y1="200.2" x2="729.6" y2="191.4" stroke="#2424e4" stroke-width="0.9"/>
<line x1="726.0" y1="200.2" x2="726.0" y2="180.0" stroke="#2424e4" stroke-width="0.9"/>
<line x1="725.6" y1="200.2" x2="725.6" y2="185.4" stroke="#2424e4" stroke-width="0.9"/>
<line x1="721.1" y1="200.2" x2="721.1" y2="188.3" stroke="#2424e4" stroke-width="0.9"/>
<line x1="724.6" y1="200.2" x2="724.6" y2="191.0" stroke="#2424e4" stroke-width="0.9"/>
<line x1="720.4" y1="200.2" x2="720.4" y2="179.7" stroke="#2424e4" stroke-width="0.9"/>
<line x1="726.3" y1="200.2" x2="726.3" y2="186.5" stroke="#2424e4" stroke-width="0.9"/>
<line x1="717.0" y1="200.2" x2="717.0" y2="190.3" stroke="#2424e4" stroke-width="0.9"/>
<line x1="721.1" y1="200.2" x2="721.1" y2="183.6" stroke="#2424e4" stroke-width="0.9"/>
<line x1="720.2" y1="200.2" x2="720.2" y2="182.9" stroke="#2424e4" stroke-width="0.9"/>
<line x1="759.7" y1="200.2" x2="759.7" y2="198.5" stroke="#2424e4" stroke-width="0.9"/>
<line x1="754.8" y1="200.2" x2="754.8" y2="185.8" stroke="#2424e4" stroke-width="0.9"/>
<line x1="750.0" y1="200.2" x2="750.0" y2="189.9" stroke="#2424e4" stroke-width="0.9"/>
<line x1="760.5" y1="200.2" x2="760.5" y2="200.1" stroke="#2424e4" stroke-width="0.9"/>
<line x1="752.8" y1="200.2" x2="752.8" y2="192.4" stroke="#2424e4" stroke-width="0.9"/>
<line x1="757.1" y1="200.2" x2="757.1" y2="183.8" stroke="#2424e4" stroke-width="0.9"/>
<line x1="752.3" y1="200.2" x2="752.3" y2="192.7" stroke="#2424e4" stroke-width="0.9"/>
<line x1="753.3" y1="200.2" x2="753.3" y2="188.9" stroke="#2424e4" stroke-width="0.9"/>
<line x1="755.9" y1="200.2" x2="755.9" y2="191.2" stroke="#2424e4" stroke-width="0.9"/>
<line x1="754.5" y1="200.2" x2="754.5" y2="184.0" stroke="#2424e4" stroke-width="0.9"/>
<line x1="752.4" y1="200.2" x2="752.4" y2="190.2" stroke="#2424e4" stroke-width="0.9"/>
<line x1="760.1" y1="200.2" x2="760.1" y2="199.0" stroke="#2424e4" stroke-width="0.9"/>
<line x1="755.3" y1="200.2" x2="755.3" y2="191.8" stroke="#2424e4" stroke-width="0.9"/>
<line x1="756.7" y1="200.2" x2="756.7" y2="194.9" stroke="#2424e4" stroke-width="0.9"/>
<line x1="760.7" y1="200.2" x2="760.7" y2="200.3" stroke="#2424e4" stroke-width="0.9"/>
<line x1="744.0" y1="200.2" x2="744.0" y2="198.8" stroke="#2424e4" stroke-width="0.9"/>
<line x1="781.4" y1="200.2" x2="781.4" y2="192.3" stroke="#2424e4" stroke-width="0.9"/>
<line x1="781.7" y1="200.2" x2="781.7" y2="188.5" stroke="#2424e4" stroke-width="0.9"/>
<line x1="786.2" y1="200.2" x2="786.2" y2="190.8" stroke="#2424e4" stroke-width="0.9"/>
<line x1="779.2" y1="200.2" x2="779.2" y2="192.6" stroke="#2424e4" stroke-width="0.9"/>
<line x1="786.9" y1="200.2" x2="786.9" y2="178.6" stroke="#2424e4" stroke-width="0.9"/>
<line x1="783.4" y1="200.2" x2="783.4" y2="190.3" stroke="#2424e4" stroke-width="0.9"/>
<line x1="787.8" y1="200.2" x2="787.8" y2="192.9" stroke="#2424e4" stroke-width="0.9"/>
<line x1="778.4" y1="200.2" x2="778.4" y2="194.3" stroke="#2424e4" stroke-width="0.9"/>
<line x1="787.4" y1="200.2" x2="787.4" y2="186.4" stroke="#2424e4" stroke-width="0.9"/>
<line x1="785.1" y1="200.2" x2="785.1" y2="188.5" stroke="#2424e4" stroke-width="0.9"/>
<line x1="784.0" y1="200.2" x2="784.0" y2="190.4" stroke="#2424e4" stroke-width="0.9"/>
<line x1="790.4" y1="200.2" x2="790.4" y2="199.0" stroke="#2424e4" stroke-width="0.9"/>
<line x1="785.2" y1="200.2" x2="785.2" y2="181.4" stroke="#2424e4" stroke-width="0.9"/>
<line x1="788.1" y1="200.2" x2="788.1" y2="192.8" stroke="#2424e4" stroke-width="0.9"/>
<line x1="809.5" y1="200.2" x2="809.5" y2="191.8" stroke="#2424e4" stroke-width="0.9"/>
<line x1="805.8" y1="200.2" x2="805.8" y2="193.5" stroke="#2424e4" stroke-width="0.9"/>
<line x1="810.8" y1="200.2" x2="810.8" y2="185.4" stroke="#2424e4" stroke-width="0.9"/>
<line x1="808.9" y1="200.2" x2="808.9" y2="193.7" stroke="#2424e4" stroke-width="0.9"/>
<line x1="808.6" y1="200.2" x2="808.6" y2="193.6" stroke="#2424e4" stroke-width="0.9"/>
<line x1="807.1" y1="200.2" x2="807.1" y2="196.9" stroke="#2424e4" stroke-width="0.9"/>
<line x1="818.9" y1="200.2" x2="818.9" y2="194.2" stroke="#2424e4" stroke-width="0.9"/>
<line x1="808.4" y1="200.2" x2="808.4" y2="194.6" stroke="#2424e4" stroke-width="0.9"/>
<line x1="813.6" y1="200.2" x2="813.6" y2="191.3" stroke="#2424e4" stroke-width="0.9"/>
<line x1="817.0" y1="200.2" x2="817.0" y2="189.4" stroke="#2424e4" stroke-width="0.9"/>
<line x1="811.0" y1="200.2" x2="811.0" y2="181.6" stroke="#2424e4" stroke-width="0.9"/>
<line x1="821.8" y1="200.2" x2="821.8" y2="197.4" stroke="#2424e4" stroke-width="0.9"/>
<line x1="821.2" y1="200.2" x2="821.2" y2="189.6" stroke="#2424e4" stroke-width="0.9"/>
<line x1="820.2" y1="200.2" x2="820.2" y2="195.9" stroke="#2424e4" stroke-width="0.9"/>
<line x1="821.3" y1="200.2" x2="821.3" y2="194.1" stroke="#2424e4" stroke-width="0.9"/>
<line x1="803.3" y1="200.2" x2="803.3" y2="200.6" stroke="#2424e4" stroke-width="0.9"/>
<line x1="823.9" y1="200.2" x2="823.9" y2="198.4" stroke="#2424e4" stroke-width="0.9"/>
<line x1="808.5" y1="200.2" x2="808.5" y2="195.5" stroke="#2424e4" stroke-width="0.9"/>
<line x1="806.1" y1="200.2" x2="806.1" y2="196.9" stroke="#2424e4" stroke-width="0.9"/>
<line x1="852.6" y1="200.2" x2="852.6" y2="195.5" stroke="#2424e4" stroke-width="0.9"/>
<line x1="837.7" y1="200.2" x2="837.7" y2="192.0" stroke="#2424e4" stroke-width="0.9"/>
<line x1="853.0" y1="200.2" x2="853.0" y2="196.6" stroke="#2424e4" stroke-width="0.9"/>
<line x1="855.4" y1="200.2" x2="855.4" y2="196.8" stroke="#2424e4" stroke-width="0.9"/>
<line x1="852.8" y1="200.2" x2="852.8" y2="193.4" stroke="#2424e4" stroke-width="0.9"/>
<line x1="855.5" y1="200.2" x2="855.5" y2="195.8" stroke="#2424e4" stroke-width="0.9"/>
<line x1="854.1" y1="200.2" x2="854.1" y2="197.2" stroke="#2424e4" stroke-width="0.9"/>
<line x1="850.6" y1="200.2" x2="850.6" y2="193.0" stroke="#2424e4" stroke-width="0.9"/>
<line x1="851.8" y1="200.2" x2="851.8" y2="194.4" stroke="#2424e4" stroke-width="0.9"/>
<line x1="855.2" y1="200.2" x2="855.2" y2="196.9" stroke="#2424e4" stroke-width="0.9"/>
<line x1="840.3" y1="200.2" x2="840.3" y2="195.5" stroke="#2424e4" stroke-width="0.9"/>
<line x1="837.3" y1="200.2" x2="837.3" y2="196.6" stroke="#2424e4" stroke-width="0.9"/>
<line x1="835.4" y1="200.2" x2="835.4" y2="198.9" stroke="#2424e4" stroke-width="0.9"/>
<line x1="837.5" y1="200.2" x2="837.5" y2="196.4" stroke="#2424e4" stroke-width="0.9"/>
<line x1="846.0" y1="200.2" x2="846.0" y2="191.5" stroke="#2424e4" stroke-width="0.9"/>
<line x1="854.7" y1="200.2" x2="854.7" y2="198.2" stroke="#2424e4" stroke-width="0.9"/>
<line x1="854.2" y1="200.2" x2="854.2" y2="196.2" stroke="#2424e4" stroke-width="0.9"/>
<line x1="847.5" y1="200.2" x2="847.5" y2="190.2" stroke="#2424e4" stroke-width="0.9"/>
<line x1="854.2" y1="200.2" x2="854.2" y2="196.6" stroke="#2424e4" stroke-width="0.9"/>
<line x1="844.1" y1="200.2" x2="844.1" y2="180.6" stroke="#2424e4" stroke-width="0.9"/>
<line x1="835.8" y1="200.2" x2="835.8" y2="197.8" stroke="#2424e4" stroke-width="0.9"/>
<line x1="399.4" y1="200.2" x2="399.4" y2="185.3" stroke="#3a3ad4" stroke-width="1.15"/>
<line x1="403.7" y1="200.2" x2="403.7" y2="185.3" stroke="#3a3ad4" stroke-width="1.15"/>
<line x1="404.7" y1="200.2" x2="404.7" y2="177.1" stroke="#3a3ad4" stroke-width="1.15"/>
<line x1="407.3" y1="200.2" x2="407.3" y2="180.0" stroke="#3a3ad4" stroke-width="1.15"/>
<line x1="412.3" y1="200.2" x2="412.3" y2="173.4" stroke="#3a3ad4" stroke-width="1.15"/>
<line x1="415.2" y1="200.2" x2="415.2" y2="186.8" stroke="#3a3ad4" stroke-width="1.15"/>
<line x1="431.3" y1="200.2" x2="431.3" y2="178.1" stroke="#3a3ad4" stroke-width="1.15"/>
<line x1="434.4" y1="200.2" x2="434.4" y2="119.1" stroke="#3a3ad4" stroke-width="1.15"/>
<line x1="435.6" y1="200.2" x2="435.6" y2="168.8" stroke="#3a3ad4" stroke-width="1.15"/>
<line x1="443.3" y1="200.2" x2="443.3" y2="183.2" stroke="#3a3ad4" stroke-width="1.15"/>
<line x1="445.4" y1="200.2" x2="445.4" y2="191.1" stroke="#3a3ad4" stroke-width="1.15"/>
<line x1="459.5" y1="200.2" x2="459.5" y2="189.9" stroke="#3a3ad4" stroke-width="1.15"/>
<line x1="462.4" y1="200.2" x2="462.4" y2="181.4" stroke="#3a3ad4" stroke-width="1.15"/>
<line x1="463.6" y1="200.2" x2="463.6" y2="185.5" stroke="#3a3ad4" stroke-width="1.15"/>
<line x1="467.5" y1="200.2" x2="467.5" y2="152.9" stroke="#3a3ad4" stroke-width="1.15"/>
<line x1="468.7" y1="200.2" x2="468.7" y2="127.1" stroke="#3a3ad4" stroke-width="1.15"/>
<line x1="471.1" y1="200.2" x2="471.1" y2="168.0" stroke="#3a3ad4" stroke-width="1.15"/>
<line x1="472.5" y1="200.2" x2="472.5" y2="67.6" stroke="#3a3ad4" stroke-width="1.15"/>
<line x1="474.0" y1="200.2" x2="474.0" y2="114.0" stroke="#3a3ad4" stroke-width="1.15"/>
<line x1="475.3" y1="200.2" x2="475.3" y2="143.7" stroke="#3a3ad4" stroke-width="1.15"/>
<line x1="476.5" y1="200.2" x2="476.5" y2="179.0" stroke="#3a3ad4" stroke-width="1.15"/>
<line x1="478.4" y1="200.2" x2="478.4" y2="192.3" stroke="#3a3ad4" stroke-width="1.15"/>
<line x1="495.5" y1="200.2" x2="495.5" y2="177.7" stroke="#3a3ad4" stroke-width="1.15"/>
<line x1="500.3" y1="200.2" x2="500.3" y2="175.3" stroke="#3a3ad4" stroke-width="1.15"/>
<line x1="505.2" y1="200.2" x2="505.2" y2="161.2" stroke="#3a3ad4" stroke-width="1.15"/>
<line x1="506.4" y1="200.2" x2="506.4" y2="127.8" stroke="#3a3ad4" stroke-width="1.15"/>
<line x1="512.5" y1="200.2" x2="512.5" y2="192.3" stroke="#3a3ad4" stroke-width="1.15"/>
<line x1="526.7" y1="200.2" x2="526.7" y2="191.1" stroke="#3a3ad4" stroke-width="1.15"/>
<line x1="528.4" y1="200.2" x2="528.4" y2="185.0" stroke="#3a3ad4" stroke-width="1.15"/>
<line x1="530.4" y1="200.2" x2="530.4" y2="101.4" stroke="#3a3ad4" stroke-width="1.15"/>
<line x1="531.5" y1="200.2" x2="531.5" y2="169.2" stroke="#3a3ad4" stroke-width="1.15"/>
<line x1="534.5" y1="200.2" x2="534.5" y2="132.7" stroke="#3a3ad4" stroke-width="1.15"/>
<line x1="538.2" y1="200.2" x2="538.2" y2="39.1" stroke="#8a8ad4" stroke-width="0.9"/>
<line x1="538.2" y1="200.2" x2="538.2" y2="87.7" stroke="#3a3ad4" stroke-width="1.1"/>
<line x1="538.8" y1="200.2" x2="538.8" y2="170.4" stroke="#3a3ad4" stroke-width="1.15"/>
<line x1="554.7" y1="200.2" x2="554.7" y2="191.1" stroke="#3a3ad4" stroke-width="1.15"/>
<line x1="557.6" y1="200.2" x2="557.6" y2="176.5" stroke="#3a3ad4" stroke-width="1.15"/>
<line x1="561.7" y1="200.2" x2="561.7" y2="180.2" stroke="#3a3ad4" stroke-width="1.15"/>
<line x1="566.6" y1="200.2" x2="566.6" y2="173.3" stroke="#3a3ad4" stroke-width="1.15"/>
<line x1="569.0" y1="200.2" x2="569.0" y2="166.0" stroke="#3a3ad4" stroke-width="1.15"/>
<line x1="571.4" y1="200.2" x2="571.4" y2="186.2" stroke="#3a3ad4" stroke-width="1.15"/>
<line x1="582.6" y1="200.2" x2="582.6" y2="194.8" stroke="#3a3ad4" stroke-width="1.15"/>
<line x1="593.5" y1="200.2" x2="593.5" y2="97.0" stroke="#3a3ad4" stroke-width="1.15"/>
<line x1="594.2" y1="200.2" x2="594.2" y2="138.8" stroke="#3a3ad4" stroke-width="1.15"/>
<line x1="595.2" y1="200.2" x2="595.2" y2="158.3" stroke="#3a3ad4" stroke-width="1.15"/>
<line x1="597.2" y1="200.2" x2="597.2" y2="176.5" stroke="#3a3ad4" stroke-width="1.15"/>
<line x1="601.5" y1="200.2" x2="601.5" y2="187.5" stroke="#3a3ad4" stroke-width="1.15"/>
<line x1="617.8" y1="200.2" x2="617.8" y2="189.9" stroke="#3a3ad4" stroke-width="1.15"/>
<line x1="625.9" y1="200.2" x2="625.9" y2="163.1" stroke="#3a3ad4" stroke-width="1.15"/>
<line x1="628.3" y1="200.2" x2="628.3" y2="174.1" stroke="#3a3ad4" stroke-width="1.15"/>
<line x1="631.7" y1="200.2" x2="631.7" y2="171.6" stroke="#3a3ad4" stroke-width="1.15"/>
<line x1="633.7" y1="200.2" x2="633.7" y2="178.9" stroke="#3a3ad4" stroke-width="1.15"/>
<line x1="651.2" y1="200.2" x2="651.2" y2="164.3" stroke="#3a3ad4" stroke-width="1.15"/>
<line x1="656.0" y1="200.2" x2="656.0" y2="154.6" stroke="#3a3ad4" stroke-width="1.15"/>
<line x1="658.5" y1="200.2" x2="658.5" y2="148.0" stroke="#3a3ad4" stroke-width="1.15"/>
<line x1="660.9" y1="200.2" x2="660.9" y2="150.5" stroke="#3a3ad4" stroke-width="1.15"/>
<line x1="662.4" y1="200.2" x2="662.4" y2="177.7" stroke="#3a3ad4" stroke-width="1.15"/>
<line x1="666.0" y1="200.2" x2="666.0" y2="187.5" stroke="#3a3ad4" stroke-width="1.15"/>
<line x1="680.5" y1="200.2" x2="680.5" y2="182.6" stroke="#3a3ad4" stroke-width="1.15"/>
<line x1="683.7" y1="200.2" x2="683.7" y2="178.9" stroke="#3a3ad4" stroke-width="1.15"/>
<line x1="686.6" y1="200.2" x2="686.6" y2="180.2" stroke="#3a3ad4" stroke-width="1.15"/>
<line x1="688.6" y1="200.2" x2="688.6" y2="110.1" stroke="#3a3ad4" stroke-width="1.15"/>
<line x1="691.5" y1="200.2" x2="691.5" y2="124.2" stroke="#3a3ad4" stroke-width="1.15"/>
<line x1="693.4" y1="200.2" x2="693.4" y2="158.3" stroke="#3a3ad4" stroke-width="1.15"/>
<line x1="713.4" y1="200.2" x2="713.4" y2="189.9" stroke="#3a3ad4" stroke-width="1.15"/>
<line x1="717.8" y1="200.2" x2="717.8" y2="165.6" stroke="#3a3ad4" stroke-width="1.15"/>
<line x1="718.7" y1="200.2" x2="718.7" y2="125.4" stroke="#3a3ad4" stroke-width="1.15"/>
<line x1="720.7" y1="200.2" x2="720.7" y2="110.8" stroke="#3a3ad4" stroke-width="1.15"/>
<line x1="723.1" y1="200.2" x2="723.1" y2="157.0" stroke="#3a3ad4" stroke-width="1.15"/>
<line x1="724.4" y1="200.2" x2="724.4" y2="34.6" stroke="#8a8ad4" stroke-width="0.9"/>
<line x1="724.4" y1="200.2" x2="724.4" y2="84.6" stroke="#3a3ad4" stroke-width="1.1"/>
<line x1="728.0" y1="200.2" x2="728.0" y2="178.9" stroke="#3a3ad4" stroke-width="1.15"/>
<line x1="730.4" y1="200.2" x2="730.4" y2="186.2" stroke="#3a3ad4" stroke-width="1.15"/>
<line x1="745.0" y1="200.2" x2="745.0" y2="187.5" stroke="#3a3ad4" stroke-width="1.15"/>
<line x1="749.3" y1="200.2" x2="749.3" y2="119.3" stroke="#3a3ad4" stroke-width="1.15"/>
<line x1="750.1" y1="200.2" x2="750.1" y2="136.4" stroke="#3a3ad4" stroke-width="1.15"/>
<line x1="754.9" y1="200.2" x2="754.9" y2="101.1" stroke="#3a3ad4" stroke-width="1.15"/>
<line x1="755.4" y1="200.2" x2="755.4" y2="163.1" stroke="#3a3ad4" stroke-width="1.15"/>
<line x1="778.0" y1="200.2" x2="778.0" y2="172.9" stroke="#3a3ad4" stroke-width="1.15"/>
<line x1="780.5" y1="200.2" x2="780.5" y2="158.3" stroke="#3a3ad4" stroke-width="1.15"/>
<line x1="782.2" y1="200.2" x2="782.2" y2="109.6" stroke="#3a3ad4" stroke-width="1.15"/>
<line x1="787.8" y1="200.2" x2="787.8" y2="187.5" stroke="#3a3ad4" stroke-width="1.15"/>
<line x1="805.1" y1="200.2" x2="805.1" y2="192.3" stroke="#3a3ad4" stroke-width="1.15"/>
<line x1="813.1" y1="200.2" x2="813.1" y2="189.9" stroke="#3a3ad4" stroke-width="1.15"/>
<line x1="818.0" y1="200.2" x2="818.0" y2="118.1" stroke="#3a3ad4" stroke-width="1.15"/>
<line x1="819.2" y1="200.2" x2="819.2" y2="169.2" stroke="#3a3ad4" stroke-width="1.15"/>
<line x1="835.5" y1="200.2" x2="835.5" y2="178.9" stroke="#3a3ad4" stroke-width="1.15"/>
<line x1="841.1" y1="200.2" x2="841.1" y2="186.2" stroke="#3a3ad4" stroke-width="1.15"/>
<line x1="843.0" y1="200.2" x2="843.0" y2="98.6" stroke="#3a3ad4" stroke-width="1.15"/>
<line x1="843.5" y1="200.2" x2="843.5" y2="151.0" stroke="#3a3ad4" stroke-width="1.15"/>
<line x1="849.6" y1="200.2" x2="849.6" y2="181.4" stroke="#3a3ad4" stroke-width="1.15"/>
<line x1="854.5" y1="200.2" x2="854.5" y2="189.9" stroke="#3a3ad4" stroke-width="1.15"/>
<line x1="855.7" y1="200.2" x2="855.7" y2="185.0" stroke="#3a3ad4" stroke-width="1.15"/>
<path d="M389.1,201.8 L389.1,199.2 L390.0,199.2 L390.0,199.1 L391.0,199.1 L391.0,199.6 L392.0,199.6 L392.0,198.8 L393.0,198.8 L393.0,199.6 L394.0,199.6 L394.0,199.6 L395.0,199.6 L395.0,199.4 L396.0,199.4 L396.0,199.5 L397.0,199.5 L397.0,199.2 L398.0,199.2 L398.0,198.8 L399.0,198.8 L399.0,197.6 L400.0,197.6 L400.0,195.9 L401.0,195.9 L401.0,196.8 L402.0,196.8 L402.0,195.8 L403.0,195.8 L403.0,196.1 L404.0,196.1 L404.0,193.3 L405.0,193.3 L405.0,194.5 L406.0,194.5 L406.0,195.5 L407.0,195.5 L407.0,195.0 L408.0,195.0 L408.0,195.4 L409.0,195.4 L409.0,193.1 L410.0,193.1 L410.0,195.7 L411.0,195.7 L411.0,196.3 L412.0,196.3 L412.0,194.2 L413.0,194.2 L413.0,195.5 L414.0,195.5 L414.0,196.9 L415.0,196.9 L415.0,197.0 L416.0,197.0 L416.0,198.0 L417.0,198.0 L417.0,199.2 L418.0,199.2 L418.0,198.6 L419.0,198.6 L419.0,198.3 L420.0,198.3 L420.0,198.5 L421.0,198.5 L421.0,198.6 L422.0,198.6 L422.0,198.6 L423.0,198.6 L423.0,198.7 L424.0,198.7 L424.0,199.4 L425.0,199.4 L425.0,199.0 L426.0,199.0 L426.0,199.3 L427.0,199.3 L427.0,198.3 L428.0,198.3 L428.0,196.5 L429.0,196.5 L429.0,196.0 L430.0,196.0 L430.0,195.5 L431.0,195.5 L431.0,196.8 L432.0,196.8 L432.0,196.8 L433.0,196.8 L433.0,195.8 L434.0,195.8 L434.0,195.4 L435.0,195.4 L435.0,196.1 L436.0,196.1 L436.0,197.6 L437.0,197.6 L437.0,196.6 L438.0,196.6 L438.0,197.6 L439.0,197.6 L439.0,199.0 L440.0,199.0 L440.0,198.6 L441.0,198.6 L441.0,198.6 L442.0,198.6 L442.0,198.3 L443.0,198.3 L443.0,199.1 L444.0,199.1 L444.0,199.1 L445.0,199.1 L445.0,198.4 L446.0,198.4 L446.0,198.7 L447.0,198.7 L447.0,199.5 L448.0,199.5 L448.0,199.5 L449.0,199.5 L449.0,199.5 L450.0,199.5 L450.0,198.4 L451.0,198.4 L451.0,198.6 L452.0,198.6 L452.0,199.5 L453.0,199.5 L453.0,198.5 L454.0,198.5 L454.0,198.3 L455.0,198.3 L455.0,198.8 L456.0,198.8 L456.0,199.2 L457.0,199.2 L457.0,198.2 L458.0,198.2 L458.0,195.7 L459.0,195.7 L459.0,193.7 L460.0,193.7 L460.0,192.8 L461.0,192.8 L461.0,194.2 L462.0,194.2 L462.0,193.2 L463.0,193.2 L463.0,191.5 L464.0,191.5 L464.0,191.7 L465.0,191.7 L465.0,189.1 L466.0,189.1 L466.0,190.8 L467.0,190.8 L467.0,188.5 L468.0,188.5 L468.0,188.2 L469.0,188.2 L469.0,190.1 L470.0,190.1 L470.0,192.6 L471.0,192.6 L471.0,191.9 L472.0,191.9 L472.0,189.2 L473.0,189.2 L473.0,191.1 L474.0,191.1 L474.0,191.1 L475.0,191.1 L475.0,191.8 L476.0,191.8 L476.0,191.3 L477.0,191.3 L477.0,192.9 L478.0,192.9 L478.0,194.7 L479.0,194.7 L479.0,194.9 L480.0,194.9 L480.0,195.4 L481.0,195.4 L481.0,197.5 L482.0,197.5 L482.0,198.8 L483.0,198.8 L483.0,199.0 L484.0,199.0 L484.0,198.7 L485.0,198.7 L485.0,199.1 L486.0,199.1 L486.0,199.0 L487.0,199.0 L487.0,199.0 L488.0,199.0 L488.0,198.4 L489.0,198.4 L489.0,198.7 L490.0,198.7 L490.0,198.4 L491.0,198.4 L491.0,196.7 L492.0,196.7 L492.0,197.4 L493.0,197.4 L493.0,196.1 L494.0,196.1 L494.0,196.1 L495.0,196.1 L495.0,194.5 L496.0,194.5 L496.0,193.4 L497.0,193.4 L497.0,193.6 L498.0,193.6 L498.0,195.2 L499.0,195.2 L499.0,192.4 L500.0,192.4 L500.0,192.3 L501.0,192.3 L501.0,193.9 L502.0,193.9 L502.0,192.8 L503.0,192.8 L503.0,194.3 L504.0,194.3 L504.0,194.8 L505.0,194.8 L505.0,195.1 L506.0,195.1 L506.0,196.3 L507.0,196.3 L507.0,195.6 L508.0,195.6 L508.0,196.4 L509.0,196.4 L509.0,196.7 L510.0,196.7 L510.0,196.7 L511.0,196.7 L511.0,197.9 L512.0,197.9 L512.0,199.6 L513.0,199.6 L513.0,199.6 L514.0,199.6 L514.0,198.6 L515.0,198.6 L515.0,199.3 L516.0,199.3 L516.0,199.5 L517.0,199.5 L517.0,199.1 L518.0,199.1 L518.0,198.4 L519.0,198.4 L519.0,198.6 L520.0,198.6 L520.0,196.9 L521.0,196.9 L521.0,195.9 L522.0,195.9 L522.0,196.5 L523.0,196.5 L523.0,194.6 L524.0,194.6 L524.0,192.2 L525.0,192.2 L525.0,191.9 L526.0,191.9 L526.0,191.1 L527.0,191.1 L527.0,190.5 L528.0,190.5 L528.0,192.3 L529.0,192.3 L529.0,189.5 L530.0,189.5 L530.0,192.9 L531.0,192.9 L531.0,192.3 L532.0,192.3 L532.0,192.6 L533.0,192.6 L533.0,192.5 L534.0,192.5 L534.0,192.2 L535.0,192.2 L535.0,192.6 L536.0,192.6 L536.0,193.3 L537.0,193.3 L537.0,194.3 L538.0,194.3 L538.0,194.8 L539.0,194.8 L539.0,193.5 L540.0,193.5 L540.0,194.5 L541.0,194.5 L541.0,196.3 L542.0,196.3 L542.0,196.5 L543.0,196.5 L543.0,197.1 L544.0,197.1 L544.0,199.1 L545.0,199.1 L545.0,198.7 L546.0,198.7 L546.0,198.3 L547.0,198.3 L547.0,199.2 L548.0,199.2 L548.0,198.5 L549.0,198.5 L549.0,198.7 L550.0,198.7 L550.0,198.8 L551.0,198.8 L551.0,199.1 L552.0,199.1 L552.0,199.2 L553.0,199.2 L553.0,199.6 L554.0,199.6 L554.0,199.2 L555.0,199.2 L555.0,199.1 L556.0,199.1 L556.0,197.8 L557.0,197.8 L557.0,197.6 L558.0,197.6 L558.0,198.0 L559.0,198.0 L559.0,197.4 L560.0,197.4 L560.0,197.2 L561.0,197.2 L561.0,196.1 L562.0,196.1 L562.0,196.9 L563.0,196.9 L563.0,196.1 L564.0,196.1 L564.0,197.4 L565.0,197.4 L565.0,197.5 L566.0,197.5 L566.0,197.5 L567.0,197.5 L567.0,197.8 L568.0,197.8 L568.0,198.6 L569.0,198.6 L569.0,198.9 L570.0,198.9 L570.0,199.6 L571.0,199.6 L571.0,199.3 L572.0,199.3 L572.0,198.9 L573.0,198.9 L573.0,199.0 L574.0,199.0 L574.0,198.6 L575.0,198.6 L575.0,198.8 L576.0,198.8 L576.0,198.7 L577.0,198.7 L577.0,198.5 L578.0,198.5 L578.0,199.2 L579.0,199.2 L579.0,199.2 L580.0,199.2 L580.0,198.3 L581.0,198.3 L581.0,199.5 L582.0,199.5 L582.0,198.7 L583.0,198.7 L583.0,197.1 L584.0,197.1 L584.0,196.2 L585.0,196.2 L585.0,194.6 L586.0,194.6 L586.0,194.6 L587.0,194.6 L587.0,192.9 L588.0,192.9 L588.0,192.3 L589.0,192.3 L589.0,191.6 L590.0,191.6 L590.0,192.0 L591.0,192.0 L591.0,194.3 L592.0,194.3 L592.0,193.0 L593.0,193.0 L593.0,191.2 L594.0,191.2 L594.0,192.2 L595.0,192.2 L595.0,192.3 L596.0,192.3 L596.0,195.1 L597.0,195.1 L597.0,193.2 L598.0,193.2 L598.0,194.5 L599.0,194.5 L599.0,196.6 L600.0,196.6 L600.0,197.0 L601.0,197.0 L601.0,198.0 L602.0,198.0 L602.0,198.7 L603.0,198.7 L603.0,198.7 L604.0,198.7 L604.0,198.3 L605.0,198.3 L605.0,199.0 L606.0,199.0 L606.0,199.2 L607.0,199.2 L607.0,199.0 L608.0,199.0 L608.0,198.7 L609.0,198.7 L609.0,198.6 L610.0,198.6 L610.0,198.8 L611.0,198.8 L611.0,198.8 L612.0,198.8 L612.0,199.6 L613.0,199.6 L613.0,199.5 L614.0,199.5 L614.0,198.7 L615.0,198.7 L615.0,198.8 L616.0,198.8 L616.0,197.9 L617.0,197.9 L617.0,196.6 L618.0,196.6 L618.0,196.9 L619.0,196.9 L619.0,196.2 L620.0,196.2 L620.0,196.7 L621.0,196.7 L621.0,196.3 L622.0,196.3 L622.0,194.2 L623.0,194.2 L623.0,195.3 L624.0,195.3 L624.0,193.9 L625.0,193.9 L625.0,195.8 L626.0,195.8 L626.0,194.1 L627.0,194.1 L627.0,195.2 L628.0,195.2 L628.0,195.5 L629.0,195.5 L629.0,196.7 L630.0,196.7 L630.0,196.1 L631.0,196.1 L631.0,196.1 L632.0,196.1 L632.0,196.2 L633.0,196.2 L633.0,198.3 L634.0,198.3 L634.0,198.2 L635.0,198.2 L635.0,199.1 L636.0,199.1 L636.0,199.5 L637.0,199.5 L637.0,199.3 L638.0,199.3 L638.0,198.5 L639.0,198.5 L639.0,199.7 L640.0,199.7 L640.0,198.6 L641.0,198.6 L641.0,198.5 L642.0,198.5 L642.0,199.5 L643.0,199.5 L643.0,198.3 L644.0,198.3 L644.0,198.1 L645.0,198.1 L645.0,196.3 L646.0,196.3 L646.0,196.9 L647.0,196.9 L647.0,196.6 L648.0,196.6 L648.0,196.6 L649.0,196.6 L649.0,195.8 L650.0,195.8 L650.0,195.6 L651.0,195.6 L651.0,194.5 L652.0,194.5 L652.0,194.7 L653.0,194.7 L653.0,192.9 L654.0,192.9 L654.0,193.6 L655.0,193.6 L655.0,192.4 L656.0,192.4 L656.0,193.1 L657.0,193.1 L657.0,193.1 L658.0,193.1 L658.0,193.1 L659.0,193.1 L659.0,194.7 L660.0,194.7 L660.0,192.8 L661.0,192.8 L661.0,194.4 L662.0,194.4 L662.0,195.2 L663.0,195.2 L663.0,193.5 L664.0,193.5 L664.0,194.8 L665.0,194.8 L665.0,195.5 L666.0,195.5 L666.0,196.8 L667.0,196.8 L667.0,197.2 L668.0,197.2 L668.0,197.2 L669.0,197.2 L669.0,197.3 L670.0,197.3 L670.0,198.3 L671.0,198.3 L671.0,199.5 L672.0,199.5 L672.0,199.6 L673.0,199.6 L673.0,199.2 L674.0,199.2 L674.0,199.6 L675.0,199.6 L675.0,199.4 L676.0,199.4 L676.0,199.3 L677.0,199.3 L677.0,198.9 L678.0,198.9 L678.0,198.1 L679.0,198.1 L679.0,196.9 L680.0,196.9 L680.0,196.4 L681.0,196.4 L681.0,195.8 L682.0,195.8 L682.0,195.7 L683.0,195.7 L683.0,193.7 L684.0,193.7 L684.0,194.6 L685.0,194.6 L685.0,194.2 L686.0,194.2 L686.0,193.3 L687.0,193.3 L687.0,191.7 L688.0,191.7 L688.0,194.7 L689.0,194.7 L689.0,192.2 L690.0,192.2 L690.0,193.2 L691.0,193.2 L691.0,195.1 L692.0,195.1 L692.0,192.2 L693.0,192.2 L693.0,193.0 L694.0,193.0 L694.0,195.4 L695.0,195.4 L695.0,196.2 L696.0,196.2 L696.0,195.6 L697.0,195.6 L697.0,196.5 L698.0,196.5 L698.0,197.6 L699.0,197.6 L699.0,199.1 L700.0,199.1 L700.0,199.6 L701.0,199.6 L701.0,198.6 L702.0,198.6 L702.0,199.4 L703.0,199.4 L703.0,198.4 L704.0,198.4 L704.0,198.8 L705.0,198.8 L705.0,199.3 L706.0,199.3 L706.0,199.5 L707.0,199.5 L707.0,199.3 L708.0,199.3 L708.0,198.8 L709.0,198.8 L709.0,198.7 L710.0,198.7 L710.0,199.5 L711.0,199.5 L711.0,199.6 L712.0,199.6 L712.0,198.9 L713.0,198.9 L713.0,197.5 L714.0,197.5 L714.0,196.8 L715.0,196.8 L715.0,194.5 L716.0,194.5 L716.0,192.9 L717.0,192.9 L717.0,192.7 L718.0,192.7 L718.0,193.1 L719.0,193.1 L719.0,190.7 L720.0,190.7 L720.0,193.4 L721.0,193.4 L721.0,190.4 L722.0,190.4 L722.0,192.2 L723.0,192.2 L723.0,189.4 L724.0,189.4 L724.0,193.6 L725.0,193.6 L725.0,192.4 L726.0,192.4 L726.0,193.8 L727.0,193.8 L727.0,192.6 L728.0,192.6 L728.0,195.3 L729.0,195.3 L729.0,196.0 L730.0,196.0 L730.0,197.5 L731.0,197.5 L731.0,198.8 L732.0,198.8 L732.0,199.3 L733.0,199.3 L733.0,198.4 L734.0,198.4 L734.0,199.0 L735.0,199.0 L735.0,199.4 L736.0,199.4 L736.0,199.4 L737.0,199.4 L737.0,199.1 L738.0,199.1 L738.0,198.8 L739.0,198.8 L739.0,198.4 L740.0,198.4 L740.0,199.5 L741.0,199.5 L741.0,199.1 L742.0,199.1 L742.0,199.4 L743.0,199.4 L743.0,198.3 L744.0,198.3 L744.0,198.4 L745.0,198.4 L745.0,195.7 L746.0,195.7 L746.0,195.0 L747.0,195.0 L747.0,193.6 L748.0,193.6 L748.0,195.2 L749.0,195.2 L749.0,193.0 L750.0,193.0 L750.0,193.0 L751.0,193.0 L751.0,193.8 L752.0,193.8 L752.0,194.5 L753.0,194.5 L753.0,194.3 L754.0,194.3 L754.0,192.3 L755.0,192.3 L755.0,192.8 L756.0,192.8 L756.0,195.2 L757.0,195.2 L757.0,194.8 L758.0,194.8 L758.0,197.5 L759.0,197.5 L759.0,197.9 L760.0,197.9 L760.0,198.4 L761.0,198.4 L761.0,199.2 L762.0,199.2 L762.0,198.4 L763.0,198.4 L763.0,199.7 L764.0,199.7 L764.0,199.1 L765.0,199.1 L765.0,198.6 L766.0,198.6 L766.0,198.6 L767.0,198.6 L767.0,199.6 L768.0,199.6 L768.0,199.7 L769.0,199.7 L769.0,199.6 L770.0,199.6 L770.0,198.4 L771.0,198.4 L771.0,199.3 L772.0,199.3 L772.0,198.7 L773.0,198.7 L773.0,198.4 L774.0,198.4 L774.0,199.2 L775.0,199.2 L775.0,198.5 L776.0,198.5 L776.0,197.3 L777.0,197.3 L777.0,195.8 L778.0,195.8 L778.0,195.8 L779.0,195.8 L779.0,191.9 L780.0,191.9 L780.0,191.0 L781.0,191.0 L781.0,193.3 L782.0,193.3 L782.0,190.2 L783.0,190.2 L783.0,192.5 L784.0,192.5 L784.0,192.5 L785.0,192.5 L785.0,191.1 L786.0,191.1 L786.0,192.3 L787.0,192.3 L787.0,193.2 L788.0,193.2 L788.0,195.1 L789.0,195.1 L789.0,197.2 L790.0,197.2 L790.0,198.6 L791.0,198.6 L791.0,199.6 L792.0,199.6 L792.0,199.4 L793.0,199.4 L793.0,198.6 L794.0,198.6 L794.0,199.4 L795.0,199.4 L795.0,199.6 L796.0,199.6 L796.0,199.7 L797.0,199.7 L797.0,198.9 L798.0,198.9 L798.0,199.2 L799.0,199.2 L799.0,198.3 L800.0,198.3 L800.0,198.5 L801.0,198.5 L801.0,198.3 L802.0,198.3 L802.0,199.3 L803.0,199.3 L803.0,199.6 L804.0,199.6 L804.0,198.2 L805.0,198.2 L805.0,197.9 L806.0,197.9 L806.0,196.5 L807.0,196.5 L807.0,195.5 L808.0,195.5 L808.0,195.2 L809.0,195.2 L809.0,194.2 L810.0,194.2 L810.0,194.6 L811.0,194.6 L811.0,193.8 L812.0,193.8 L812.0,195.1 L813.0,195.1 L813.0,195.3 L814.0,195.3 L814.0,194.0 L815.0,194.0 L815.0,194.7 L816.0,194.7 L816.0,194.5 L817.0,194.5 L817.0,193.9 L818.0,193.9 L818.0,193.8 L819.0,193.8 L819.0,195.6 L820.0,195.6 L820.0,195.3 L821.0,195.3 L821.0,197.7 L822.0,197.7 L822.0,198.1 L823.0,198.1 L823.0,197.9 L824.0,197.9 L824.0,198.9 L825.0,198.9 L825.0,199.2 L826.0,199.2 L826.0,198.5 L827.0,198.5 L827.0,199.1 L828.0,199.1 L828.0,199.3 L829.0,199.3 L829.0,198.6 L830.0,198.6 L830.0,198.4 L831.0,198.4 L831.0,199.6 L832.0,199.6 L832.0,198.9 L833.0,198.9 L833.0,198.8 L834.0,198.8 L834.0,199.4 L835.0,199.4 L835.0,199.2 L836.0,199.2 L836.0,198.0 L837.0,198.0 L837.0,198.0 L838.0,198.0 L838.0,197.3 L839.0,197.3 L839.0,197.2 L840.0,197.2 L840.0,196.8 L841.0,196.8 L841.0,195.7 L842.0,195.7 L842.0,196.6 L843.0,196.6 L843.0,195.2 L844.0,195.2 L844.0,196.3 L845.0,196.3 L845.0,194.7 L846.0,194.7 L846.0,195.8 L847.0,195.8 L847.0,194.0 L848.0,194.0 L848.0,195.2 L849.0,195.2 L849.0,195.8 L850.0,195.8 L850.0,194.6 L851.0,194.6 L851.0,196.8 L852.0,196.8 L852.0,197.1 L853.0,197.1 L853.0,196.2 L854.0,196.2 L854.0,197.0 L855.0,197.0 L855.0,197.6 L856.0,197.6 L856.0,199.1 L857.0,199.1 L857.0,199.7 L858.0,199.7 L858.0,198.8 L859.0,198.8 L859.0,201.8 Z" fill="#0a0aee" stroke="none"/>
<line x1="389.35" y1="201.20" x2="389.35" y2="204.10" stroke="#4a4a4a" stroke-width="1.0" />
<line x1="389.35" y1="23.20" x2="389.35" y2="20.30" stroke="#4a4a4a" stroke-width="1.0" />
<text x="389.35" y="223.50" font-size="16.0" text-anchor="middle" font-weight="normal" >2001</text>
<line x1="420.55" y1="201.20" x2="420.55" y2="204.10" stroke="#4a4a4a" stroke-width="1.0" />
<line x1="420.55" y1="23.20" x2="420.55" y2="20.30" stroke="#4a4a4a" stroke-width="1.0" />
<line x1="451.75" y1="201.20" x2="451.75" y2="204.10" stroke="#4a4a4a" stroke-width="1.0" />
<line x1="451.75" y1="23.20" x2="451.75" y2="20.30" stroke="#4a4a4a" stroke-width="1.0" />
<text x="451.75" y="223.50" font-size="16.0" text-anchor="middle" font-weight="normal" >2003</text>
<line x1="482.95" y1="201.20" x2="482.95" y2="204.10" stroke="#4a4a4a" stroke-width="1.0" />
<line x1="482.95" y1="23.20" x2="482.95" y2="20.30" stroke="#4a4a4a" stroke-width="1.0" />
<line x1="514.15" y1="201.20" x2="514.15" y2="204.10" stroke="#4a4a4a" stroke-width="1.0" />
<line x1="514.15" y1="23.20" x2="514.15" y2="20.30" stroke="#4a4a4a" stroke-width="1.0" />
<text x="514.15" y="223.50" font-size="16.0" text-anchor="middle" font-weight="normal" >2005</text>
<line x1="545.35" y1="201.20" x2="545.35" y2="204.10" stroke="#4a4a4a" stroke-width="1.0" />
<line x1="545.35" y1="23.20" x2="545.35" y2="20.30" stroke="#4a4a4a" stroke-width="1.0" />
<line x1="576.55" y1="201.20" x2="576.55" y2="204.10" stroke="#4a4a4a" stroke-width="1.0" />
<line x1="576.55" y1="23.20" x2="576.55" y2="20.30" stroke="#4a4a4a" stroke-width="1.0" />
<text x="576.55" y="223.50" font-size="16.0" text-anchor="middle" font-weight="normal" >2007</text>
<line x1="607.75" y1="201.20" x2="607.75" y2="204.10" stroke="#4a4a4a" stroke-width="1.0" />
<line x1="607.75" y1="23.20" x2="607.75" y2="20.30" stroke="#4a4a4a" stroke-width="1.0" />
<line x1="638.95" y1="201.20" x2="638.95" y2="204.10" stroke="#4a4a4a" stroke-width="1.0" />
<line x1="638.95" y1="23.20" x2="638.95" y2="20.30" stroke="#4a4a4a" stroke-width="1.0" />
<text x="638.95" y="223.50" font-size="16.0" text-anchor="middle" font-weight="normal" >2009</text>
<line x1="670.15" y1="201.20" x2="670.15" y2="204.10" stroke="#4a4a4a" stroke-width="1.0" />
<line x1="670.15" y1="23.20" x2="670.15" y2="20.30" stroke="#4a4a4a" stroke-width="1.0" />
<line x1="701.35" y1="201.20" x2="701.35" y2="204.10" stroke="#4a4a4a" stroke-width="1.0" />
<line x1="701.35" y1="23.20" x2="701.35" y2="20.30" stroke="#4a4a4a" stroke-width="1.0" />
<text x="701.35" y="223.50" font-size="16.0" text-anchor="middle" font-weight="normal" >2011</text>
<line x1="732.55" y1="201.20" x2="732.55" y2="204.10" stroke="#4a4a4a" stroke-width="1.0" />
<line x1="732.55" y1="23.20" x2="732.55" y2="20.30" stroke="#4a4a4a" stroke-width="1.0" />
<line x1="763.75" y1="201.20" x2="763.75" y2="204.10" stroke="#4a4a4a" stroke-width="1.0" />
<line x1="763.75" y1="23.20" x2="763.75" y2="20.30" stroke="#4a4a4a" stroke-width="1.0" />
<text x="763.75" y="223.50" font-size="16.0" text-anchor="middle" font-weight="normal" >2013</text>
<line x1="794.95" y1="201.20" x2="794.95" y2="204.10" stroke="#4a4a4a" stroke-width="1.0" />
<line x1="794.95" y1="23.20" x2="794.95" y2="20.30" stroke="#4a4a4a" stroke-width="1.0" />
<line x1="826.15" y1="201.20" x2="826.15" y2="204.10" stroke="#4a4a4a" stroke-width="1.0" />
<line x1="826.15" y1="23.20" x2="826.15" y2="20.30" stroke="#4a4a4a" stroke-width="1.0" />
<text x="826.15" y="223.50" font-size="16.0" text-anchor="middle" font-weight="normal" >2015</text>
<line x1="857.35" y1="201.20" x2="857.35" y2="204.10" stroke="#4a4a4a" stroke-width="1.0" />
<line x1="857.35" y1="23.20" x2="857.35" y2="20.30" stroke="#4a4a4a" stroke-width="1.0" />
<line x1="859.00" y1="201.20" x2="861.90" y2="201.20" stroke="#4a4a4a" stroke-width="1.0" />
<text x="866.40" y="206.70" font-size="16.0" text-anchor="start" font-weight="normal" >0</text>
<line x1="859.00" y1="150.34" x2="861.90" y2="150.34" stroke="#4a4a4a" stroke-width="1.0" />
<text x="866.40" y="155.84" font-size="16.0" text-anchor="start" font-weight="normal" >0.4</text>
<line x1="859.00" y1="99.49" x2="861.90" y2="99.49" stroke="#4a4a4a" stroke-width="1.0" />
<text x="866.40" y="104.99" font-size="16.0" text-anchor="start" font-weight="normal" >0.8</text>
<line x1="859.00" y1="48.63" x2="861.90" y2="48.63" stroke="#4a4a4a" stroke-width="1.0" />
<text x="866.40" y="54.13" font-size="16.0" text-anchor="start" font-weight="normal" >1.2</text>
<text x="404.00" y="42.30" font-size="15.6" text-anchor="middle" font-weight="bold" >(b)</text>
<text transform="translate(911.1,160.6) rotate(-90)" font-size="17.7" style="white-space:pre">Inflow  (km<tspan font-size="12.5" dy="-11" dx="0.3">3</tspan><tspan dy="11" dx="1.2">)</tspan></text>
<rect x="66.00" y="245.80" width="792.80" height="168.80" fill="none" stroke="#7a7a7a" stroke-width="1.2"/>
<line x1="520.4" y1="413.6" x2="520.4" y2="345.3" stroke="#4040d0" stroke-width="1.1"/>
<line x1="705.5" y1="413.6" x2="705.5" y2="384.3" stroke="#1010e8" stroke-width="1.4"/>
<line x1="736.2" y1="413.6" x2="736.2" y2="367.1" stroke="#7a7ad0" stroke-width="1.1"/>
<line x1="385.6" y1="413.6" x2="385.6" y2="303.3" stroke="#6060d0" stroke-width="1.0"/>
<line x1="731.6" y1="413.6" x2="731.6" y2="255.0" stroke="#6a6ac8" stroke-width="1.1"/>
<line x1="122.1" y1="413.6" x2="122.1" y2="398.0" stroke="#2020e8" stroke-width="1"/>
<line x1="130.0" y1="413.6" x2="130.0" y2="398.0" stroke="#2020e8" stroke-width="1"/>
<line x1="136.0" y1="413.6" x2="136.0" y2="397.0" stroke="#2020e8" stroke-width="1"/>
<line x1="142.0" y1="413.6" x2="142.0" y2="398.5" stroke="#2020e8" stroke-width="1"/>
<line x1="164.0" y1="413.6" x2="164.0" y2="397.0" stroke="#2020e8" stroke-width="1"/>
<line x1="170.0" y1="413.6" x2="170.0" y2="397.0" stroke="#2020e8" stroke-width="1"/>
<line x1="323.0" y1="413.6" x2="323.0" y2="397.5" stroke="#2020e8" stroke-width="1"/>
<line x1="327.0" y1="413.6" x2="327.0" y2="398.0" stroke="#2020e8" stroke-width="1"/>
<path d="M66.0,415.2 L66.00,411.3 L67.00,411.3 L67.00,410.1 L68.00,410.1 L68.00,411.2 L69.00,411.2 L69.00,411.4 L70.00,411.4 L70.00,411.9 L71.00,411.9 L71.00,410.7 L72.00,410.7 L72.00,412.0 L73.00,412.0 L73.00,411.0 L74.00,411.0 L74.00,411.0 L75.00,411.0 L75.00,411.8 L76.00,411.8 L76.00,410.1 L77.00,410.1 L77.00,411.4 L78.00,411.4 L78.00,411.3 L79.00,411.3 L79.00,410.7 L80.00,410.7 L80.00,411.7 L81.00,411.7 L81.00,410.7 L82.00,410.7 L82.00,410.9 L83.00,410.9 L83.00,411.1 L84.00,411.1 L84.00,411.5 L85.00,411.5 L85.00,410.4 L86.00,410.4 L86.00,410.9 L87.00,410.9 L87.00,410.8 L88.00,410.8 L88.00,411.1 L89.00,411.1 L89.00,411.7 L90.00,411.7 L90.00,410.6 L91.00,410.6 L91.00,411.7 L92.00,411.7 L92.00,410.8 L93.00,410.8 L93.00,411.0 L94.00,411.0 L94.00,410.5 L95.00,410.5 L95.00,411.0 L96.00,411.0 L96.00,411.9 L97.00,411.9 L97.00,411.3 L98.00,411.3 L98.00,411.6 L99.00,411.6 L99.00,410.7 L100.00,410.7 L100.00,410.1 L101.00,410.1 L101.00,408.8 L102.00,408.8 L102.00,407.8 L103.00,407.8 L103.00,406.6 L104.00,406.6 L104.00,405.7 L105.00,405.7 L105.00,404.2 L106.00,404.2 L106.00,404.8 L107.00,404.8 L107.00,405.2 L108.00,405.2 L108.00,405.4 L109.00,405.4 L109.00,405.9 L110.00,405.9 L110.00,407.4 L111.00,407.4 L111.00,408.4 L112.00,408.4 L112.00,409.9 L113.00,409.9 L113.00,411.8 L114.00,411.8 L114.00,411.6 L115.00,411.6 L115.00,411.4 L116.00,411.4 L116.00,411.2 L117.00,411.2 L117.00,410.9 L118.00,410.9 L118.00,411.0 L119.00,411.0 L119.00,411.1 L120.00,411.1 L120.00,411.1 L121.00,411.1 L121.00,399.1 L122.00,399.1 L122.00,399.0 L123.00,399.0 L123.00,409.6 L124.00,409.6 L124.00,410.0 L125.00,410.0 L125.00,409.9 L126.00,409.9 L126.00,410.1 L127.00,410.1 L127.00,409.8 L128.00,409.8 L128.00,409.5 L129.00,409.5 L129.00,409.2 L130.00,409.2 L130.00,409.1 L131.00,409.1 L131.00,402.4 L132.00,402.4 L132.00,399.8 L133.00,399.8 L133.00,404.3 L134.00,404.3 L134.00,407.5 L135.00,407.5 L135.00,401.6 L136.00,401.6 L136.00,401.8 L137.00,401.8 L137.00,405.5 L138.00,405.5 L138.00,408.3 L139.00,408.3 L139.00,408.2 L140.00,408.2 L140.00,407.8 L141.00,407.8 L141.00,407.2 L142.00,407.2 L142.00,405.1 L143.00,405.1 L143.00,402.9 L144.00,402.9 L144.00,398.3 L145.00,398.3 L145.00,407.0 L146.00,407.0 L146.00,403.8 L147.00,403.8 L147.00,407.0 L148.00,407.0 L148.00,406.9 L149.00,406.9 L149.00,400.4 L150.00,400.4 L150.00,403.7 L151.00,403.7 L151.00,398.6 L152.00,398.6 L152.00,405.0 L153.00,405.0 L153.00,405.7 L154.00,405.7 L154.00,405.6 L155.00,405.6 L155.00,411.4 L156.00,411.4 L156.00,411.9 L157.00,411.9 L157.00,412.0 L158.00,412.0 L158.00,411.2 L159.00,411.2 L159.00,411.1 L160.00,411.1 L160.00,410.7 L161.00,410.7 L161.00,400.5 L162.00,400.5 L162.00,402.7 L163.00,402.7 L163.00,402.8 L164.00,402.8 L164.00,402.9 L165.00,402.9 L165.00,402.9 L166.00,402.9 L166.00,400.2 L167.00,400.2 L167.00,405.9 L168.00,405.9 L168.00,397.6 L169.00,397.6 L169.00,405.9 L170.00,405.9 L170.00,399.2 L171.00,399.2 L171.00,405.9 L172.00,405.9 L172.00,405.9 L173.00,405.9 L173.00,401.3 L174.00,401.3 L174.00,408.7 L175.00,408.7 L175.00,406.3 L176.00,406.3 L176.00,408.8 L177.00,408.8 L177.00,408.9 L178.00,408.9 L178.00,406.0 L179.00,406.0 L179.00,406.2 L180.00,406.2 L180.00,406.8 L181.00,406.8 L181.00,408.9 L182.00,408.9 L182.00,411.0 L183.00,411.0 L183.00,410.4 L184.00,410.4 L184.00,409.9 L185.00,409.9 L185.00,410.0 L186.00,410.0 L186.00,411.9 L187.00,411.9 L187.00,411.3 L188.00,411.3 L188.00,412.0 L189.00,412.0 L189.00,411.7 L190.00,411.7 L190.00,411.0 L191.00,411.0 L191.00,411.0 L192.00,411.0 L192.00,411.7 L193.00,411.7 L193.00,411.8 L194.00,411.8 L194.00,411.1 L195.00,411.1 L195.00,411.3 L196.00,411.3 L196.00,410.9 L197.00,410.9 L197.00,410.9 L198.00,410.9 L198.00,410.6 L199.00,410.6 L199.00,410.6 L200.00,410.6 L200.00,411.1 L201.00,411.1 L201.00,411.6 L202.00,411.6 L202.00,411.9 L203.00,411.9 L203.00,411.7 L204.00,411.7 L204.00,412.0 L205.00,412.0 L205.00,411.2 L206.00,411.2 L206.00,412.2 L207.00,412.2 L207.00,411.5 L208.00,411.5 L208.00,410.5 L209.00,410.5 L209.00,410.4 L210.00,410.4 L210.00,410.1 L211.00,410.1 L211.00,410.1 L212.00,410.1 L212.00,396.8 L213.00,396.8 L213.00,396.9 L214.00,396.9 L214.00,396.8 L215.00,396.8 L215.00,396.6 L216.00,396.6 L216.00,396.3 L217.00,396.3 L217.00,396.1 L218.00,396.1 L218.00,409.1 L219.00,409.1 L219.00,409.4 L220.00,409.4 L220.00,409.5 L221.00,409.5 L221.00,409.9 L222.00,409.9 L222.00,410.1 L223.00,410.1 L223.00,409.7 L224.00,409.7 L224.00,409.7 L225.00,409.7 L225.00,409.9 L226.00,409.9 L226.00,410.2 L227.00,410.2 L227.00,410.4 L228.00,410.4 L228.00,405.4 L229.00,405.4 L229.00,405.9 L230.00,405.9 L230.00,405.9 L231.00,405.9 L231.00,406.5 L232.00,406.5 L232.00,406.3 L233.00,406.3 L233.00,406.3 L234.00,406.3 L234.00,408.7 L235.00,408.7 L235.00,408.8 L236.00,408.8 L236.00,408.8 L237.00,408.8 L237.00,408.6 L238.00,408.6 L238.00,408.3 L239.00,408.3 L239.00,407.6 L240.00,407.6 L240.00,407.0 L241.00,407.0 L241.00,409.0 L242.00,409.0 L242.00,406.2 L243.00,406.2 L243.00,406.3 L244.00,406.3 L244.00,412.2 L245.00,412.2 L245.00,411.6 L246.00,411.6 L246.00,411.0 L247.00,411.0 L247.00,412.2 L248.00,412.2 L248.00,412.1 L249.00,412.1 L249.00,411.9 L250.00,411.9 L250.00,412.3 L251.00,412.3 L251.00,411.2 L252.00,411.2 L252.00,410.7 L253.00,410.7 L253.00,411.6 L254.00,411.6 L254.00,412.1 L255.00,412.1 L255.00,410.9 L256.00,410.9 L256.00,412.0 L257.00,412.0 L257.00,412.4 L258.00,412.4 L258.00,411.0 L259.00,411.0 L259.00,411.7 L260.00,411.7 L260.00,411.9 L261.00,411.9 L261.00,411.4 L262.00,411.4 L262.00,410.9 L263.00,410.9 L263.00,411.0 L264.00,411.0 L264.00,412.0 L265.00,412.0 L265.00,412.1 L266.00,412.1 L266.00,411.4 L267.00,411.4 L267.00,410.7 L268.00,410.7 L268.00,412.1 L269.00,412.1 L269.00,412.0 L270.00,412.0 L270.00,411.0 L271.00,411.0 L271.00,411.7 L272.00,411.7 L272.00,412.3 L273.00,412.3 L273.00,412.3 L274.00,412.3 L274.00,411.5 L275.00,411.5 L275.00,411.5 L276.00,411.5 L276.00,411.7 L277.00,411.7 L277.00,410.9 L278.00,410.9 L278.00,410.9 L279.00,410.9 L279.00,406.9 L280.00,406.9 L280.00,406.6 L281.00,406.6 L281.00,406.7 L282.00,406.7 L282.00,406.6 L283.00,406.6 L283.00,406.6 L284.00,406.6 L284.00,406.6 L285.00,406.6 L285.00,406.7 L286.00,406.7 L286.00,406.8 L287.00,406.8 L287.00,406.2 L288.00,406.2 L288.00,406.4 L289.00,406.4 L289.00,409.0 L290.00,409.0 L290.00,408.7 L291.00,408.7 L291.00,408.4 L292.00,408.4 L292.00,408.6 L293.00,408.6 L293.00,408.5 L294.00,408.5 L294.00,408.6 L295.00,408.6 L295.00,403.2 L296.00,403.2 L296.00,403.5 L297.00,403.5 L297.00,403.7 L298.00,403.7 L298.00,401.1 L299.00,401.1 L299.00,401.3 L300.00,401.3 L300.00,402.0 L301.00,402.0 L301.00,407.4 L302.00,407.4 L302.00,407.5 L303.00,407.5 L303.00,407.3 L304.00,407.3 L304.00,407.4 L305.00,407.4 L305.00,407.0 L306.00,407.0 L306.00,400.3 L307.00,400.3 L307.00,400.3 L308.00,400.3 L308.00,400.5 L309.00,400.5 L309.00,399.8 L310.00,399.8 L310.00,408.0 L311.00,408.0 L311.00,407.9 L312.00,407.9 L312.00,407.9 L313.00,407.9 L313.00,407.9 L314.00,407.9 L314.00,408.0 L315.00,408.0 L315.00,407.5 L316.00,407.5 L316.00,405.0 L317.00,405.0 L317.00,407.2 L318.00,407.2 L318.00,404.4 L319.00,404.4 L319.00,404.5 L320.00,404.5 L320.00,408.0 L321.00,408.0 L321.00,401.5 L322.00,401.5 L322.00,402.0 L323.00,402.0 L323.00,402.7 L324.00,402.7 L324.00,397.6 L325.00,397.6 L325.00,403.5 L326.00,403.5 L326.00,402.9 L327.00,402.9 L327.00,402.3 L328.00,402.3 L328.00,397.6 L329.00,397.6 L329.00,400.9 L330.00,400.9 L330.00,402.9 L331.00,402.9 L331.00,402.8 L332.00,402.8 L332.00,403.2 L333.00,403.2 L333.00,405.4 L334.00,405.4 L334.00,405.3 L335.00,405.3 L335.00,410.7 L336.00,410.7 L336.00,410.8 L337.00,410.8 L337.00,410.7 L338.00,410.7 L338.00,410.6 L339.00,410.6 L339.00,406.1 L340.00,406.1 L340.00,406.1 L341.00,406.1 L341.00,406.3 L342.00,406.3 L342.00,411.0 L343.00,411.0 L343.00,407.3 L344.00,407.3 L344.00,407.5 L345.00,407.5 L345.00,409.6 L346.00,409.6 L346.00,407.1 L347.00,407.1 L347.00,411.5 L348.00,411.5 L348.00,411.5 L349.00,411.5 L349.00,408.9 L350.00,408.9 L350.00,408.4 L351.00,408.4 L351.00,408.8 L352.00,408.8 L352.00,411.1 L353.00,411.1 L353.00,410.7 L354.00,410.7 L354.00,410.1 L355.00,410.1 L355.00,410.6 L356.00,410.6 L356.00,410.7 L357.00,410.7 L357.00,410.9 L358.00,410.9 L358.00,411.1 L359.00,411.1 L359.00,410.9 L360.00,410.9 L360.00,411.0 L361.00,411.0 L361.00,399.2 L362.00,399.2 L362.00,399.1 L363.00,399.1 L363.00,399.7 L364.00,399.7 L364.00,399.0 L365.00,399.0 L365.00,399.7 L366.00,399.7 L366.00,399.2 L367.00,399.2 L367.00,399.0 L368.00,399.0 L368.00,396.9 L369.00,396.9 L369.00,396.2 L370.00,396.2 L370.00,396.9 L371.00,396.9 L371.00,396.9 L372.00,396.9 L372.00,396.9 L373.00,396.9 L373.00,396.1 L374.00,396.1 L374.00,396.4 L375.00,396.4 L375.00,396.1 L376.00,396.1 L376.00,382.2 L377.00,382.2 L377.00,384.6 L378.00,384.6 L378.00,389.7 L379.00,389.7 L379.00,392.7 L380.00,392.7 L380.00,393.2 L381.00,393.2 L381.00,385.2 L382.00,385.2 L382.00,392.4 L383.00,392.4 L383.00,389.7 L384.00,389.7 L384.00,395.7 L385.00,395.7 L385.00,395.5 L386.00,395.5 L386.00,395.7 L387.00,395.7 L387.00,387.8 L388.00,387.8 L388.00,391.1 L389.00,391.1 L389.00,395.7 L390.00,395.7 L390.00,383.9 L391.00,383.9 L391.00,396.3 L392.00,396.3 L392.00,396.4 L393.00,396.4 L393.00,396.2 L394.00,396.2 L394.00,396.3 L395.00,396.3 L395.00,396.8 L396.00,396.8 L396.00,412.0 L397.00,412.0 L397.00,412.1 L398.00,412.1 L398.00,411.9 L399.00,411.9 L399.00,411.9 L400.00,411.9 L400.00,408.8 L401.00,408.8 L401.00,412.4 L402.00,412.4 L402.00,408.2 L403.00,408.2 L403.00,412.5 L404.00,412.5 L404.00,408.9 L405.00,408.9 L405.00,409.5 L406.00,409.5 L406.00,412.3 L407.00,412.3 L407.00,412.0 L408.00,412.0 L408.00,412.1 L409.00,412.1 L409.00,412.1 L410.00,412.1 L410.00,412.2 L411.00,412.2 L411.00,412.1 L412.00,412.1 L412.00,408.1 L413.00,408.1 L413.00,408.1 L414.00,408.1 L414.00,408.3 L415.00,408.3 L415.00,412.5 L416.00,412.5 L416.00,412.3 L417.00,412.3 L417.00,408.9 L418.00,408.9 L418.00,412.5 L419.00,412.5 L419.00,410.1 L420.00,410.1 L420.00,410.8 L421.00,410.8 L421.00,408.2 L422.00,408.2 L422.00,412.5 L423.00,412.5 L423.00,409.6 L424.00,409.6 L424.00,412.0 L425.00,412.0 L425.00,412.1 L426.00,412.1 L426.00,412.3 L427.00,412.3 L427.00,409.4 L428.00,409.4 L428.00,410.0 L429.00,410.0 L429.00,412.3 L430.00,412.3 L430.00,412.1 L431.00,412.1 L431.00,408.8 L432.00,408.8 L432.00,412.3 L433.00,412.3 L433.00,411.8 L434.00,411.8 L434.00,412.0 L435.00,412.0 L435.00,412.2 L436.00,412.2 L436.00,409.8 L437.00,409.8 L437.00,410.0 L438.00,410.0 L438.00,412.3 L439.00,412.3 L439.00,412.4 L440.00,412.4 L440.00,412.4 L441.00,412.4 L441.00,411.9 L442.00,411.9 L442.00,411.7 L443.00,411.7 L443.00,411.9 L444.00,411.9 L444.00,412.0 L445.00,412.0 L445.00,411.6 L446.00,411.6 L446.00,411.1 L447.00,411.1 L447.00,410.6 L448.00,410.6 L448.00,410.7 L449.00,410.7 L449.00,411.3 L450.00,411.3 L450.00,410.8 L451.00,410.8 L451.00,410.2 L452.00,410.2 L452.00,410.0 L453.00,410.0 L453.00,409.6 L454.00,409.6 L454.00,409.8 L455.00,409.8 L455.00,405.4 L456.00,405.4 L456.00,407.6 L457.00,407.6 L457.00,405.2 L458.00,405.2 L458.00,405.1 L459.00,405.1 L459.00,405.8 L460.00,405.8 L460.00,408.0 L461.00,408.0 L461.00,404.7 L462.00,404.7 L462.00,407.1 L463.00,407.1 L463.00,405.0 L464.00,405.0 L464.00,407.7 L465.00,407.7 L465.00,407.8 L466.00,407.8 L466.00,402.5 L467.00,402.5 L467.00,405.3 L468.00,405.3 L468.00,405.5 L469.00,405.5 L469.00,405.4 L470.00,405.4 L470.00,405.0 L471.00,405.0 L471.00,405.4 L472.00,405.4 L472.00,405.1 L473.00,405.1 L473.00,405.1 L474.00,405.1 L474.00,404.9 L475.00,404.9 L475.00,405.3 L476.00,405.3 L476.00,404.6 L477.00,404.6 L477.00,403.9 L478.00,403.9 L478.00,412.3 L479.00,412.3 L479.00,411.5 L480.00,411.5 L480.00,412.1 L481.00,412.1 L481.00,411.6 L482.00,411.6 L482.00,412.1 L483.00,412.1 L483.00,411.1 L484.00,411.1 L484.00,412.3 L485.00,412.3 L485.00,412.4 L486.00,412.4 L486.00,399.5 L487.00,399.5 L487.00,399.5 L488.00,399.5 L488.00,399.5 L489.00,399.5 L489.00,399.5 L490.00,399.5 L490.00,410.0 L491.00,410.0 L491.00,409.3 L492.00,409.3 L492.00,409.5 L493.00,409.5 L493.00,409.7 L494.00,409.7 L494.00,409.8 L495.00,409.8 L495.00,396.8 L496.00,396.8 L496.00,397.3 L497.00,397.3 L497.00,396.5 L498.00,396.5 L498.00,396.6 L499.00,396.6 L499.00,397.2 L500.00,397.2 L500.00,407.9 L501.00,407.9 L501.00,408.0 L502.00,408.0 L502.00,407.7 L503.00,407.7 L503.00,407.6 L504.00,407.6 L504.00,407.5 L505.00,407.5 L505.00,407.4 L506.00,407.4 L506.00,407.6 L507.00,407.6 L507.00,407.2 L508.00,407.2 L508.00,396.2 L509.00,396.2 L509.00,395.5 L510.00,395.5 L510.00,395.6 L511.00,395.6 L511.00,396.0 L512.00,396.0 L512.00,396.0 L513.00,396.0 L513.00,395.8 L514.00,395.8 L514.00,395.6 L515.00,395.6 L515.00,395.9 L516.00,395.9 L516.00,395.6 L517.00,395.6 L517.00,396.1 L518.00,396.1 L518.00,396.4 L519.00,396.4 L519.00,395.6 L520.00,395.6 L520.00,396.1 L521.00,396.1 L521.00,396.2 L522.00,396.2 L522.00,395.7 L523.00,395.7 L523.00,396.3 L524.00,396.3 L524.00,396.4 L525.00,396.4 L525.00,395.9 L526.00,395.9 L526.00,405.5 L527.00,405.5 L527.00,404.9 L528.00,404.9 L528.00,405.0 L529.00,405.0 L529.00,405.2 L530.00,405.2 L530.00,396.7 L531.00,396.7 L531.00,396.6 L532.00,396.6 L532.00,396.1 L533.00,396.1 L533.00,405.9 L534.00,405.9 L534.00,405.8 L535.00,405.8 L535.00,405.8 L536.00,405.8 L536.00,397.5 L537.00,397.5 L537.00,397.3 L538.00,397.3 L538.00,402.7 L539.00,402.7 L539.00,402.9 L540.00,402.9 L540.00,403.0 L541.00,403.0 L541.00,406.0 L542.00,406.0 L542.00,405.6 L543.00,405.6 L543.00,402.3 L544.00,402.3 L544.00,402.4 L545.00,402.4 L545.00,405.8 L546.00,405.8 L546.00,405.6 L547.00,405.6 L547.00,405.2 L548.00,405.2 L548.00,405.3 L549.00,405.3 L549.00,408.4 L550.00,408.4 L550.00,408.6 L551.00,408.6 L551.00,408.6 L552.00,408.6 L552.00,408.6 L553.00,408.6 L553.00,397.5 L554.00,397.5 L554.00,397.6 L555.00,397.6 L555.00,398.5 L556.00,398.5 L556.00,398.3 L557.00,398.3 L557.00,404.7 L558.00,404.7 L558.00,407.6 L559.00,407.6 L559.00,407.1 L560.00,407.1 L560.00,406.4 L561.00,406.4 L561.00,406.0 L562.00,406.0 L562.00,410.0 L563.00,410.0 L563.00,407.5 L564.00,407.5 L564.00,409.6 L565.00,409.6 L565.00,412.4 L566.00,412.4 L566.00,411.5 L567.00,411.5 L567.00,412.1 L568.00,412.1 L568.00,412.8 L569.00,412.8 L569.00,412.2 L570.00,412.2 L570.00,411.5 L571.00,411.5 L571.00,412.0 L572.00,412.0 L572.00,411.9 L573.00,411.9 L573.00,412.9 L574.00,412.9 L574.00,411.6 L575.00,411.6 L575.00,411.6 L576.00,411.6 L576.00,412.3 L577.00,412.3 L577.00,411.2 L578.00,411.2 L578.00,412.2 L579.00,412.2 L579.00,412.9 L580.00,412.9 L580.00,412.0 L581.00,412.0 L581.00,411.5 L582.00,411.5 L582.00,411.9 L583.00,411.9 L583.00,412.1 L584.00,412.1 L584.00,411.3 L585.00,411.3 L585.00,411.2 L586.00,411.2 L586.00,411.3 L587.00,411.3 L587.00,411.6 L588.00,411.6 L588.00,411.8 L589.00,411.8 L589.00,411.6 L590.00,411.6 L590.00,411.5 L591.00,411.5 L591.00,411.2 L592.00,411.2 L592.00,412.1 L593.00,412.1 L593.00,412.7 L594.00,412.7 L594.00,412.2 L595.00,412.2 L595.00,412.1 L596.00,412.1 L596.00,412.3 L597.00,412.3 L597.00,411.4 L598.00,411.4 L598.00,407.5 L599.00,407.5 L599.00,408.1 L600.00,408.1 L600.00,408.3 L601.00,408.3 L601.00,408.3 L602.00,408.3 L602.00,408.6 L603.00,408.6 L603.00,409.1 L604.00,409.1 L604.00,412.3 L605.00,412.3 L605.00,412.3 L606.00,412.3 L606.00,412.1 L607.00,412.1 L607.00,412.1 L608.00,412.1 L608.00,411.9 L609.00,411.9 L609.00,412.1 L610.00,412.1 L610.00,412.1 L611.00,412.1 L611.00,411.5 L612.00,411.5 L612.00,411.8 L613.00,411.8 L613.00,411.7 L614.00,411.7 L614.00,411.7 L615.00,411.7 L615.00,411.9 L616.00,411.9 L616.00,409.6 L617.00,409.6 L617.00,412.2 L618.00,412.2 L618.00,411.7 L619.00,411.7 L619.00,412.0 L620.00,412.0 L620.00,412.1 L621.00,412.1 L621.00,411.5 L622.00,411.5 L622.00,411.6 L623.00,411.6 L623.00,411.9 L624.00,411.9 L624.00,412.0 L625.00,412.0 L625.00,412.0 L626.00,412.0 L626.00,411.6 L627.00,411.6 L627.00,411.9 L628.00,411.9 L628.00,412.0 L629.00,412.0 L629.00,409.7 L630.00,409.7 L630.00,410.1 L631.00,410.1 L631.00,412.4 L632.00,412.4 L632.00,412.3 L633.00,412.3 L633.00,412.3 L634.00,412.3 L634.00,411.9 L635.00,411.9 L635.00,411.7 L636.00,411.7 L636.00,411.2 L637.00,411.2 L637.00,411.0 L638.00,411.0 L638.00,411.2 L639.00,411.2 L639.00,411.1 L640.00,411.1 L640.00,407.2 L641.00,407.2 L641.00,407.1 L642.00,407.1 L642.00,409.1 L643.00,409.1 L643.00,406.8 L644.00,406.8 L644.00,407.0 L645.00,407.0 L645.00,406.5 L646.00,406.5 L646.00,410.4 L647.00,410.4 L647.00,405.9 L648.00,405.9 L648.00,410.5 L649.00,410.5 L649.00,407.0 L650.00,407.0 L650.00,407.5 L651.00,407.5 L651.00,408.0 L652.00,408.0 L652.00,404.9 L653.00,404.9 L653.00,408.8 L654.00,408.8 L654.00,409.0 L655.00,409.0 L655.00,408.7 L656.00,408.7 L656.00,408.5 L657.00,408.5 L657.00,408.6 L658.00,408.6 L658.00,408.8 L659.00,408.8 L659.00,408.9 L660.00,408.9 L660.00,408.6 L661.00,408.6 L661.00,405.3 L662.00,405.3 L662.00,409.2 L663.00,409.2 L663.00,409.0 L664.00,409.0 L664.00,408.4 L665.00,408.4 L665.00,408.5 L666.00,408.5 L666.00,405.0 L667.00,405.0 L667.00,400.2 L668.00,400.2 L668.00,399.8 L669.00,399.8 L669.00,403.7 L670.00,403.7 L670.00,403.8 L671.00,403.8 L671.00,404.5 L672.00,404.5 L672.00,404.7 L673.00,404.7 L673.00,411.7 L674.00,411.7 L674.00,412.4 L675.00,412.4 L675.00,412.4 L676.00,412.4 L676.00,411.6 L677.00,411.6 L677.00,412.9 L678.00,412.9 L678.00,412.0 L679.00,412.0 L679.00,412.8 L680.00,412.8 L680.00,404.1 L681.00,404.1 L681.00,403.6 L682.00,403.6 L682.00,408.7 L683.00,408.7 L683.00,408.4 L684.00,408.4 L684.00,403.2 L685.00,403.2 L685.00,409.0 L686.00,409.0 L686.00,403.0 L687.00,403.0 L687.00,402.4 L688.00,402.4 L688.00,402.2 L689.00,402.2 L689.00,398.8 L690.00,398.8 L690.00,396.8 L691.00,396.8 L691.00,396.5 L692.00,396.5 L692.00,397.0 L693.00,397.0 L693.00,396.5 L694.00,396.5 L694.00,396.5 L695.00,396.5 L695.00,396.7 L696.00,396.7 L696.00,396.4 L697.00,396.4 L697.00,396.4 L698.00,396.4 L698.00,396.6 L699.00,396.6 L699.00,396.4 L700.00,396.4 L700.00,396.9 L701.00,396.9 L701.00,396.7 L702.00,396.7 L702.00,396.5 L703.00,396.5 L703.00,396.1 L704.00,396.1 L704.00,396.4 L705.00,396.4 L705.00,396.4 L706.00,396.4 L706.00,396.6 L707.00,396.6 L707.00,396.6 L708.00,396.6 L708.00,396.9 L709.00,396.9 L709.00,397.0 L710.00,397.0 L710.00,396.5 L711.00,396.5 L711.00,396.4 L712.00,396.4 L712.00,396.6 L713.00,396.6 L713.00,397.0 L714.00,397.0 L714.00,396.3 L715.00,396.3 L715.00,396.5 L716.00,396.5 L716.00,396.8 L717.00,396.8 L717.00,396.2 L718.00,396.2 L718.00,396.3 L719.00,396.3 L719.00,397.0 L720.00,397.0 L720.00,396.8 L721.00,396.8 L721.00,404.2 L722.00,404.2 L722.00,404.5 L723.00,404.5 L723.00,403.8 L724.00,403.8 L724.00,408.6 L725.00,408.6 L725.00,408.4 L726.00,408.4 L726.00,407.9 L727.00,407.9 L727.00,396.4 L728.00,396.4 L728.00,395.9 L729.00,395.9 L729.00,395.7 L730.00,395.7 L730.00,395.8 L731.00,395.8 L731.00,396.0 L732.00,396.0 L732.00,396.0 L733.00,396.0 L733.00,395.7 L734.00,395.7 L734.00,395.7 L735.00,395.7 L735.00,396.1 L736.00,396.1 L736.00,396.1 L737.00,396.1 L737.00,395.9 L738.00,395.9 L738.00,396.5 L739.00,396.5 L739.00,396.1 L740.00,396.1 L740.00,395.5 L741.00,395.5 L741.00,395.9 L742.00,395.9 L742.00,396.3 L743.00,396.3 L743.00,395.8 L744.00,395.8 L744.00,396.2 L745.00,396.2 L745.00,395.5 L746.00,395.5 L746.00,395.8 L747.00,395.8 L747.00,401.3 L748.00,401.3 L748.00,401.1 L749.00,401.1 L749.00,401.2 L750.00,401.2 L750.00,400.7 L751.00,400.7 L751.00,401.0 L752.00,401.0 L752.00,401.1 L753.00,401.1 L753.00,400.8 L754.00,400.8 L754.00,401.1 L755.00,401.1 L755.00,401.0 L756.00,401.0 L756.00,401.5 L757.00,401.5 L757.00,411.9 L758.00,411.9 L758.00,411.6 L759.00,411.6 L759.00,411.2 L760.00,411.2 L760.00,411.2 L761.00,411.2 L761.00,412.1 L762.00,412.1 L762.00,411.2 L763.00,411.2 L763.00,410.7 L764.00,410.7 L764.00,410.4 L765.00,410.4 L765.00,409.9 L766.00,409.9 L766.00,407.0 L767.00,407.0 L767.00,407.4 L768.00,407.4 L768.00,407.3 L769.00,407.3 L769.00,410.0 L770.00,410.0 L770.00,410.0 L771.00,410.0 L771.00,411.6 L772.00,411.6 L772.00,411.1 L773.00,411.1 L773.00,411.5 L774.00,411.5 L774.00,412.7 L775.00,412.7 L775.00,412.6 L776.00,412.6 L776.00,412.2 L777.00,412.2 L777.00,411.9 L778.00,411.9 L778.00,411.4 L779.00,411.4 L779.00,411.3 L780.00,411.3 L780.00,411.3 L781.00,411.3 L781.00,411.3 L782.00,411.3 L782.00,411.3 L783.00,411.3 L783.00,407.1 L784.00,407.1 L784.00,407.6 L785.00,407.6 L785.00,409.8 L786.00,409.8 L786.00,409.3 L787.00,409.3 L787.00,409.6 L788.00,409.6 L788.00,409.7 L789.00,409.7 L789.00,410.0 L790.00,410.0 L790.00,410.3 L791.00,410.3 L791.00,409.6 L792.00,409.6 L792.00,409.3 L793.00,409.3 L793.00,409.5 L794.00,409.5 L794.00,409.3 L795.00,409.3 L795.00,409.2 L796.00,409.2 L796.00,409.4 L797.00,409.4 L797.00,409.4 L798.00,409.4 L798.00,409.1 L799.00,409.1 L799.00,409.3 L800.00,409.3 L800.00,413.1 L801.00,413.1 L801.00,412.3 L802.00,412.3 L802.00,412.5 L803.00,412.5 L803.00,412.9 L804.00,412.9 L804.00,412.3 L805.00,412.3 L805.00,410.3 L806.00,410.3 L806.00,409.7 L807.00,409.7 L807.00,409.8 L808.00,409.8 L808.00,409.5 L809.00,409.5 L809.00,409.8 L810.00,409.8 L810.00,409.1 L811.00,409.1 L811.00,408.6 L812.00,408.6 L812.00,408.4 L813.00,408.4 L813.00,405.6 L814.00,405.6 L814.00,407.8 L815.00,407.8 L815.00,405.5 L816.00,405.5 L816.00,405.6 L817.00,405.6 L817.00,405.6 L818.00,405.6 L818.00,405.7 L819.00,405.7 L819.00,405.7 L820.00,405.7 L820.00,409.0 L821.00,409.0 L821.00,409.0 L822.00,409.0 L822.00,408.6 L823.00,408.6 L823.00,408.7 L824.00,408.7 L824.00,408.8 L825.00,408.8 L825.00,408.8 L826.00,408.8 L826.00,408.8 L827.00,408.8 L827.00,408.9 L828.00,408.9 L828.00,403.3 L829.00,403.3 L829.00,410.0 L830.00,410.0 L830.00,410.2 L831.00,410.2 L831.00,410.4 L832.00,410.4 L832.00,410.2 L833.00,410.2 L833.00,410.4 L834.00,410.4 L834.00,410.5 L835.00,410.5 L835.00,410.2 L836.00,410.2 L836.00,410.4 L837.00,410.4 L837.00,407.4 L838.00,407.4 L838.00,404.5 L839.00,404.5 L839.00,404.6 L840.00,404.6 L840.00,408.4 L841.00,408.4 L841.00,408.2 L842.00,408.2 L842.00,405.5 L843.00,405.5 L843.00,407.7 L844.00,407.7 L844.00,403.3 L845.00,403.3 L845.00,408.3 L846.00,408.3 L846.00,403.3 L847.00,403.3 L847.00,407.0 L848.00,407.0 L848.00,409.9 L849.00,409.9 L849.00,409.8 L850.00,409.8 L850.00,409.9 L851.00,409.9 L851.00,409.7 L852.00,409.7 L852.00,409.7 L853.00,409.7 L853.00,413.2 L854.00,413.2 L854.00,413.0 L855.00,413.0 L855.00,412.8 L856.00,412.8 L856.00,410.4 L857.00,410.4 L857.00,410.2 L858.00,410.2 L858.00,410.3 L858.80,410.3 L858.8,415.2 Z" fill="#0000f4" stroke="none"/>
<polygon points="375.5,397.0 377.0,386.0 389.0,386.0 390.5,397.0 390.5,414.6 375.5,414.6" fill="#0000ee"/>
<polygon points="377.6,386.0 378.0,329.0 379.0,329.0 379.4,386.0 379.4,414.6 377.6,414.6" fill="#0000ee"/>
<polygon points="379.8,386.0 380.0,366.5 380.7,366.5 380.9,386.0 380.9,414.6 379.8,414.6" fill="#0000ee"/>
<polygon points="381.5,386.0 382.0,350.0 382.8,350.0 383.3,386.0 383.3,414.6 381.5,414.6" fill="#0000ee"/>
<polygon points="383.8,386.0 384.1,372.0 384.7,372.0 384.9,386.0 384.9,414.6 383.8,414.6" fill="#0000ee"/>
<polygon points="385.1,386.0 385.3,330.0 386.0,330.0 386.3,386.0 386.3,414.6 385.1,414.6" fill="#0000ee"/>
<polygon points="387.8,386.0 388.0,384.0 388.7,384.0 388.9,386.0 388.9,414.6 387.8,414.6" fill="#0000ee"/>
<polygon points="518.8,397.0 519.4,381.0 520.0,381.0 520.0,345.5 520.9,345.5 520.9,381.0 521.6,381.0 522.2,397.0 522.2,414.6 518.8,414.6" fill="#0000ee"/>
<polygon points="664.5,409.0 666.5,402.0 668.6,397.5 669.6,396.6 670.6,399.0 672.2,404.0 673.2,410.0 673.2,414.6 664.5,414.6" fill="#0000ee"/>
<polygon points="709.3,397.0 710.0,382.0 710.8,364.0 711.8,364.0 712.3,380.0 712.8,373.0 713.8,373.0 714.3,397.0 714.3,414.6 709.3,414.6" fill="#0000ee"/>
<polygon points="729.3,397.0 730.2,379.0 730.8,330.0 732.6,330.0 733.9,379.0 734.6,397.0 734.6,414.6 729.3,414.6" fill="#0000ee"/>
<path d="M66.0,287.9 L72.0,289.7 L78.6,291.2 L86.6,295.0 L91.9,297.9 L97.8,301.5 L102.5,301.2 L106.5,303.2 L111.1,313.2 L117.1,316.2 L119.8,314.9 L123.1,322.5 L126.4,323.1 L129.0,322.5 L131.7,323.8 L134.4,319.8 L137.0,323.8 L141.0,322.9 L143.0,322.5 L144.0,324.8 L146.0,331.4 L149.3,334.1 L151.7,339.4 L153.3,336.1 L155.3,340.0 L157.2,341.4 L159.9,338.7 L161.5,337.4 L162.8,329.8 L165.2,336.1 L167.2,336.5 L169.8,334.1 L171.8,330.8 L174.7,334.7 L178.5,335.4 L182.4,335.1 L187.1,338.7 L193.0,338.3 L197.0,339.6 L199.7,333.4 L203.0,331.2 L205.6,330.1 L208.3,327.2 L211.6,320.8 L212.9,311.5 L215.0,299.9 L217.3,301.0 L220.0,296.6 L223.3,292.6 L229.2,291.9 L233.2,297.0 L237.2,297.9 L240.5,300.6 L243.8,304.9 L247.8,306.3 L251.1,305.2 L255.8,306.9 L259.7,306.9 L263.0,308.2 L268.4,304.5 L272.3,303.6 L276.3,301.2 L281.0,300.6 L284.3,304.5 L287.6,308.1 L291.0,307.6 L293.6,308.5 L296.3,307.2 L300.3,311.2 L306.2,308.5 L309.5,313.2 L312.2,311.8 L316.2,317.1 L320.8,322.7 L324.8,319.1 L328.8,323.8 L331.4,329.1 L333.4,336.4 L336.1,338.4 L339.4,334.4 L343.4,329.7 L346.7,332.4 L350.0,333.7 L353.3,332.4 L356.6,327.1 L361.3,325.4 L364.6,329.7 L366.6,320.1 L368.2,304.9 L369.5,300.9 L370.6,291.6 L372.6,291.6 L374.6,295.0 L377.0,298.3 L378.6,295.0 L380.6,295.6 L382.5,291.0 L384.5,292.3 L387.2,289.0 L391.2,288.3 L393.2,291.6 L395.8,297.6 L399.1,294.3 L403.8,289.6 L410.4,287.9 L418.4,287.9 L426.3,287.7 L434.0,289.6 L436.6,289.2 L440.6,291.2 L445.9,292.3 L448.6,293.9 L451.9,298.5 L456.5,299.2 L461.8,301.2 L465.8,304.7 L469.8,309.1 L472.4,309.1 L475.1,309.8 L477.7,307.8 L479.7,308.7 L482.4,303.8 L485.7,297.9 L487.7,301.2 L491.0,312.4" fill="none" stroke="#3ee04e" stroke-width="1.95" stroke-linejoin="round" transform="translate(0,0.25)"/>
<path d="M703.6,312.4 L705.6,298.5 L708.3,297.9 L710.9,298.5 L712.9,295.5 L715.6,295.2 L718.2,300.5 L720.9,309.8 L722.9,320.4 L724.8,324.4 L728.2,324.1 L729.5,305.8 L732.1,297.9 L734.8,293.2 L736.8,296.5 L739.4,308.5 L741.2,313.1 L742.7,305.8 L745.4,293.2 L748.0,291.2 L753.4,289.2 L757.3,292.5 L764.0,288.6 L770.6,290.6 L775.3,288.3 L783.3,287.9 L789.9,289.2 L795.9,289.9 L800.5,292.8 L804.5,292.3 L808.5,293.9 L812.5,297.6 L816.4,299.2 L821.7,303.2 L827.1,309.1 L832.4,313.1 L837.0,315.8 L841.6,311.8 L847.0,315.1 L850.9,319.1 L854.9,323.7 L858.6,324.4" fill="none" stroke="#3ee04e" stroke-width="1.95" stroke-linejoin="round" transform="translate(0,0.25)"/>
<line x1="66.00" y1="414.60" x2="66.00" y2="417.50" stroke="#4a4a4a" stroke-width="1.0" />
<line x1="66.00" y1="245.80" x2="66.00" y2="242.90" stroke="#4a4a4a" stroke-width="1.0" />
<text x="66.00" y="437.10" font-size="16.0" text-anchor="middle" font-weight="normal" >2016</text>
<line x1="155.45" y1="414.60" x2="155.45" y2="417.50" stroke="#4a4a4a" stroke-width="1.0" />
<line x1="155.45" y1="245.80" x2="155.45" y2="242.90" stroke="#4a4a4a" stroke-width="1.0" />
<text x="155.45" y="437.10" font-size="16.0" text-anchor="middle" font-weight="normal" >2016.5</text>
<line x1="244.90" y1="414.60" x2="244.90" y2="417.50" stroke="#4a4a4a" stroke-width="1.0" />
<line x1="244.90" y1="245.80" x2="244.90" y2="242.90" stroke="#4a4a4a" stroke-width="1.0" />
<text x="244.90" y="437.10" font-size="16.0" text-anchor="middle" font-weight="normal" >2017</text>
<line x1="334.35" y1="414.60" x2="334.35" y2="417.50" stroke="#4a4a4a" stroke-width="1.0" />
<line x1="334.35" y1="245.80" x2="334.35" y2="242.90" stroke="#4a4a4a" stroke-width="1.0" />
<text x="334.35" y="437.10" font-size="16.0" text-anchor="middle" font-weight="normal" >2017.5</text>
<line x1="423.80" y1="414.60" x2="423.80" y2="417.50" stroke="#4a4a4a" stroke-width="1.0" />
<line x1="423.80" y1="245.80" x2="423.80" y2="242.90" stroke="#4a4a4a" stroke-width="1.0" />
<text x="423.80" y="437.10" font-size="16.0" text-anchor="middle" font-weight="normal" >2018</text>
<line x1="513.25" y1="414.60" x2="513.25" y2="417.50" stroke="#4a4a4a" stroke-width="1.0" />
<line x1="513.25" y1="245.80" x2="513.25" y2="242.90" stroke="#4a4a4a" stroke-width="1.0" />
<text x="513.25" y="437.10" font-size="16.0" text-anchor="middle" font-weight="normal" >2018.5</text>
<line x1="602.70" y1="414.60" x2="602.70" y2="417.50" stroke="#4a4a4a" stroke-width="1.0" />
<line x1="602.70" y1="245.80" x2="602.70" y2="242.90" stroke="#4a4a4a" stroke-width="1.0" />
<text x="602.70" y="437.10" font-size="16.0" text-anchor="middle" font-weight="normal" >2019</text>
<line x1="692.15" y1="414.60" x2="692.15" y2="417.50" stroke="#4a4a4a" stroke-width="1.0" />
<line x1="692.15" y1="245.80" x2="692.15" y2="242.90" stroke="#4a4a4a" stroke-width="1.0" />
<text x="692.15" y="437.10" font-size="16.0" text-anchor="middle" font-weight="normal" >2019.5</text>
<line x1="781.60" y1="414.60" x2="781.60" y2="417.50" stroke="#4a4a4a" stroke-width="1.0" />
<line x1="781.60" y1="245.80" x2="781.60" y2="242.90" stroke="#4a4a4a" stroke-width="1.0" />
<text x="781.60" y="437.10" font-size="16.0" text-anchor="middle" font-weight="normal" >2020</text>
<line x1="858.80" y1="414.60" x2="858.80" y2="417.50" stroke="#4a4a4a" stroke-width="1.0" />
<line x1="858.80" y1="245.80" x2="858.80" y2="242.90" stroke="#4a4a4a" stroke-width="1.0" />
<text x="858.80" y="437.10" font-size="16.0" text-anchor="middle" font-weight="normal" >2020.5</text>
<line x1="66.00" y1="351.30" x2="63.10" y2="351.30" stroke="#4a4a4a" stroke-width="1.0" />
<text x="58.30" y="356.80" font-size="16.0" text-anchor="end" font-weight="normal" >300</text>
<line x1="66.00" y1="330.20" x2="63.10" y2="330.20" stroke="#4a4a4a" stroke-width="1.0" />
<line x1="66.00" y1="309.10" x2="63.10" y2="309.10" stroke="#4a4a4a" stroke-width="1.0" />
<text x="58.30" y="314.60" font-size="16.0" text-anchor="end" font-weight="normal" >320</text>
<line x1="66.00" y1="288.00" x2="63.10" y2="288.00" stroke="#4a4a4a" stroke-width="1.0" />
<line x1="66.00" y1="266.90" x2="63.10" y2="266.90" stroke="#4a4a4a" stroke-width="1.0" />
<text x="58.30" y="272.40" font-size="16.0" text-anchor="end" font-weight="normal" >340</text>
<line x1="66.00" y1="245.80" x2="63.10" y2="245.80" stroke="#4a4a4a" stroke-width="1.0" />
<line x1="858.80" y1="414.60" x2="861.70" y2="414.60" stroke="#4a4a4a" stroke-width="1.0" />
<text x="866.40" y="420.10" font-size="16.0" text-anchor="start" font-weight="normal" >0</text>
<line x1="858.80" y1="347.08" x2="861.70" y2="347.08" stroke="#4a4a4a" stroke-width="1.0" />
<text x="866.40" y="352.58" font-size="16.0" text-anchor="start" font-weight="normal" >0.4</text>
<line x1="858.80" y1="279.56" x2="861.70" y2="279.56" stroke="#4a4a4a" stroke-width="1.0" />
<text x="866.40" y="285.06" font-size="16.0" text-anchor="start" font-weight="normal" >0.8</text>
<text x="78.60" y="266.10" font-size="15.6" text-anchor="middle" font-weight="bold" >(c)</text>
<text transform="translate(28.9,419.6) rotate(-90)" font-size="17.7">Reservoir water level (m)</text>
<text transform="translate(906.3,381.6) rotate(-90)" font-size="17.7">Release (km<tspan font-size="12.5" dy="-11" dx="0.3">3</tspan><tspan dy="11" dx="1.2">)</tspan></text>
</svg>
</body></html>
